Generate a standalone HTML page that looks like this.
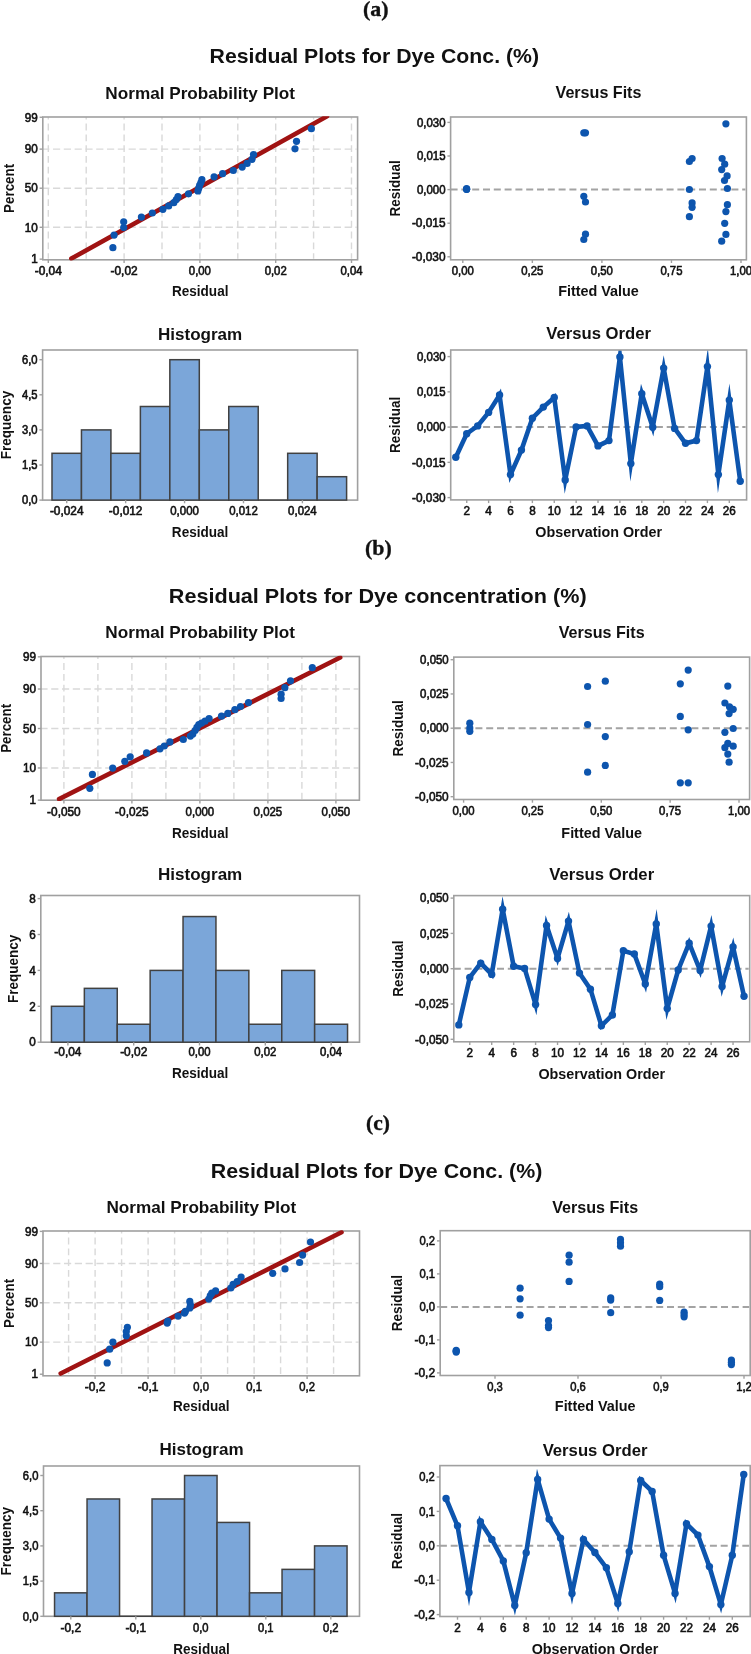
<!DOCTYPE html>
<html><head><meta charset="utf-8"><title>Residual Plots</title>
<style>html,body{margin:0;padding:0;background:#fff;}svg{display:block;}</style>
</head><body>
<svg style="will-change:transform" width="751" height="1654" viewBox="0 0 751 1654">
<rect width="751" height="1654" fill="#fff"/>
<text x="375.70" y="15.70" font-size="21.8" font-weight="bold" text-anchor="middle" fill="#111" font-family='"Liberation Serif", serif' textLength="25.6" lengthAdjust="spacingAndGlyphs" stroke="#111" stroke-width="0.35">(a)</text>
<text x="374.30" y="63.30" font-size="20.8" font-weight="bold" text-anchor="middle" fill="#111" font-family='"Liberation Sans", sans-serif' textLength="329.4" lengthAdjust="spacingAndGlyphs">Residual Plots for Dye Conc. (%)</text>
<text x="200.20" y="98.60" font-size="16.4" font-weight="bold" text-anchor="middle" fill="#111" font-family='"Liberation Sans", sans-serif' textLength="189.7" lengthAdjust="spacingAndGlyphs">Normal Probability Plot</text>
<line x1="42.20" y1="227.29" x2="356.60" y2="227.29" stroke="#d9d9d9" stroke-width="1.4" stroke-dasharray="7.2 3.6" stroke-dashoffset="0"/>
<line x1="42.20" y1="188.20" x2="356.60" y2="188.20" stroke="#d9d9d9" stroke-width="1.4" stroke-dasharray="7.2 3.6" stroke-dashoffset="0"/>
<line x1="42.20" y1="149.11" x2="356.60" y2="149.11" stroke="#d9d9d9" stroke-width="1.4" stroke-dasharray="7.2 3.6" stroke-dashoffset="0"/>
<line x1="48.30" y1="117.00" x2="48.30" y2="258.80" stroke="#d9d9d9" stroke-width="1.4" stroke-dasharray="6.8 4" stroke-dashoffset="4.2"/>
<line x1="86.20" y1="117.00" x2="86.20" y2="258.80" stroke="#d9d9d9" stroke-width="1.4" stroke-dasharray="6.8 4" stroke-dashoffset="4.2"/>
<line x1="124.10" y1="117.00" x2="124.10" y2="258.80" stroke="#d9d9d9" stroke-width="1.4" stroke-dasharray="6.8 4" stroke-dashoffset="4.2"/>
<line x1="162.00" y1="117.00" x2="162.00" y2="258.80" stroke="#d9d9d9" stroke-width="1.4" stroke-dasharray="6.8 4" stroke-dashoffset="4.2"/>
<line x1="199.90" y1="117.00" x2="199.90" y2="258.80" stroke="#d9d9d9" stroke-width="1.4" stroke-dasharray="6.8 4" stroke-dashoffset="4.2"/>
<line x1="237.80" y1="117.00" x2="237.80" y2="258.80" stroke="#d9d9d9" stroke-width="1.4" stroke-dasharray="6.8 4" stroke-dashoffset="4.2"/>
<line x1="275.70" y1="117.00" x2="275.70" y2="258.80" stroke="#d9d9d9" stroke-width="1.4" stroke-dasharray="6.8 4" stroke-dashoffset="4.2"/>
<line x1="313.60" y1="117.00" x2="313.60" y2="258.80" stroke="#d9d9d9" stroke-width="1.4" stroke-dasharray="6.8 4" stroke-dashoffset="4.2"/>
<line x1="351.50" y1="117.00" x2="351.50" y2="258.80" stroke="#d9d9d9" stroke-width="1.4" stroke-dasharray="6.8 4" stroke-dashoffset="4.2"/>
<rect x="42.80" y="117.00" width="314.80" height="142.80" fill="none" stroke="#a0a0a0" stroke-width="1.6"/>
<clipPath id="n16"><rect x="42.80" y="116.20" width="314.80" height="144.40"/></clipPath>
<line x1="71.40" y1="258.60" x2="327.00" y2="116.30" stroke="#a01313" stroke-width="4.6" stroke-linecap="round" clip-path="url(#n16)"/>
<circle cx="112.90" cy="247.70" r="3.6" fill="#0d55ae"/>
<circle cx="114.10" cy="235.10" r="3.6" fill="#0d55ae"/>
<circle cx="123.70" cy="227.54" r="3.6" fill="#0d55ae"/>
<circle cx="123.70" cy="221.84" r="3.6" fill="#0d55ae"/>
<circle cx="141.40" cy="217.12" r="3.6" fill="#0d55ae"/>
<circle cx="152.30" cy="213.00" r="3.6" fill="#0d55ae"/>
<circle cx="162.90" cy="209.30" r="3.6" fill="#0d55ae"/>
<circle cx="168.70" cy="205.88" r="3.6" fill="#0d55ae"/>
<circle cx="173.80" cy="202.68" r="3.6" fill="#0d55ae"/>
<circle cx="176.30" cy="199.62" r="3.6" fill="#0d55ae"/>
<circle cx="178.00" cy="196.68" r="3.6" fill="#0d55ae"/>
<circle cx="188.50" cy="193.81" r="3.6" fill="#0d55ae"/>
<circle cx="197.90" cy="190.99" r="3.6" fill="#0d55ae"/>
<circle cx="198.70" cy="188.20" r="3.6" fill="#0d55ae"/>
<circle cx="199.60" cy="185.41" r="3.6" fill="#0d55ae"/>
<circle cx="200.90" cy="182.59" r="3.6" fill="#0d55ae"/>
<circle cx="201.90" cy="179.72" r="3.6" fill="#0d55ae"/>
<circle cx="214.10" cy="176.78" r="3.6" fill="#0d55ae"/>
<circle cx="222.60" cy="173.72" r="3.6" fill="#0d55ae"/>
<circle cx="233.30" cy="170.52" r="3.6" fill="#0d55ae"/>
<circle cx="242.20" cy="167.10" r="3.6" fill="#0d55ae"/>
<circle cx="247.10" cy="163.40" r="3.6" fill="#0d55ae"/>
<circle cx="252.00" cy="159.28" r="3.6" fill="#0d55ae"/>
<circle cx="253.50" cy="154.56" r="3.6" fill="#0d55ae"/>
<circle cx="295.00" cy="148.86" r="3.6" fill="#0d55ae"/>
<circle cx="296.50" cy="141.30" r="3.6" fill="#0d55ae"/>
<circle cx="311.40" cy="128.70" r="3.6" fill="#0d55ae"/>
<line x1="39.60" y1="259.15" x2="42.80" y2="259.15" stroke="#a0a0a0" stroke-width="1.4"/>
<text x="37.70" y="263.40" font-size="12.2" font-weight="normal" text-anchor="end" fill="#111" font-family='"Liberation Sans", sans-serif' textLength="6.5" lengthAdjust="spacingAndGlyphs" stroke="#111" stroke-width="0.6">1</text>
<line x1="39.60" y1="227.29" x2="42.80" y2="227.29" stroke="#a0a0a0" stroke-width="1.4"/>
<text x="37.70" y="231.54" font-size="12.2" font-weight="normal" text-anchor="end" fill="#111" font-family='"Liberation Sans", sans-serif' textLength="13.0" lengthAdjust="spacingAndGlyphs" stroke="#111" stroke-width="0.6">10</text>
<line x1="39.60" y1="188.20" x2="42.80" y2="188.20" stroke="#a0a0a0" stroke-width="1.4"/>
<text x="37.70" y="192.45" font-size="12.2" font-weight="normal" text-anchor="end" fill="#111" font-family='"Liberation Sans", sans-serif' textLength="13.0" lengthAdjust="spacingAndGlyphs" stroke="#111" stroke-width="0.6">50</text>
<line x1="39.60" y1="149.11" x2="42.80" y2="149.11" stroke="#a0a0a0" stroke-width="1.4"/>
<text x="37.70" y="153.36" font-size="12.2" font-weight="normal" text-anchor="end" fill="#111" font-family='"Liberation Sans", sans-serif' textLength="13.0" lengthAdjust="spacingAndGlyphs" stroke="#111" stroke-width="0.6">90</text>
<line x1="39.60" y1="117.25" x2="42.80" y2="117.25" stroke="#a0a0a0" stroke-width="1.4"/>
<text x="37.70" y="121.50" font-size="12.2" font-weight="normal" text-anchor="end" fill="#111" font-family='"Liberation Sans", sans-serif' textLength="13.0" lengthAdjust="spacingAndGlyphs" stroke="#111" stroke-width="0.6">99</text>
<line x1="48.30" y1="259.80" x2="48.30" y2="263.00" stroke="#a0a0a0" stroke-width="1.4"/>
<text x="48.30" y="274.70" font-size="12.2" font-weight="normal" text-anchor="middle" fill="#111" font-family='"Liberation Sans", sans-serif' textLength="27.1" lengthAdjust="spacingAndGlyphs" stroke="#111" stroke-width="0.6">-0,04</text>
<line x1="124.10" y1="259.80" x2="124.10" y2="263.00" stroke="#a0a0a0" stroke-width="1.4"/>
<text x="124.10" y="274.70" font-size="12.2" font-weight="normal" text-anchor="middle" fill="#111" font-family='"Liberation Sans", sans-serif' textLength="27.1" lengthAdjust="spacingAndGlyphs" stroke="#111" stroke-width="0.6">-0,02</text>
<line x1="199.90" y1="259.80" x2="199.90" y2="263.00" stroke="#a0a0a0" stroke-width="1.4"/>
<text x="199.90" y="274.70" font-size="12.2" font-weight="normal" text-anchor="middle" fill="#111" font-family='"Liberation Sans", sans-serif' textLength="22.1" lengthAdjust="spacingAndGlyphs" stroke="#111" stroke-width="0.6">0,00</text>
<line x1="275.70" y1="259.80" x2="275.70" y2="263.00" stroke="#a0a0a0" stroke-width="1.4"/>
<text x="275.70" y="274.70" font-size="12.2" font-weight="normal" text-anchor="middle" fill="#111" font-family='"Liberation Sans", sans-serif' textLength="22.1" lengthAdjust="spacingAndGlyphs" stroke="#111" stroke-width="0.6">0,02</text>
<line x1="351.50" y1="259.80" x2="351.50" y2="263.00" stroke="#a0a0a0" stroke-width="1.4"/>
<text x="351.50" y="274.70" font-size="12.2" font-weight="normal" text-anchor="middle" fill="#111" font-family='"Liberation Sans", sans-serif' textLength="22.1" lengthAdjust="spacingAndGlyphs" stroke="#111" stroke-width="0.6">0,04</text>
<text transform="translate(13.60,188.40) rotate(-90)" x="0" y="0" font-size="15.2" font-weight="bold" text-anchor="middle" fill="#111" font-family='"Liberation Sans", sans-serif' textLength="49" lengthAdjust="spacingAndGlyphs">Percent</text>
<text x="200.20" y="296.30" font-size="14.6" font-weight="bold" text-anchor="middle" fill="#111" font-family='"Liberation Sans", sans-serif' textLength="56.5" lengthAdjust="spacingAndGlyphs">Residual</text>
<text x="598.50" y="98.20" font-size="16.4" font-weight="bold" text-anchor="middle" fill="#111" font-family='"Liberation Sans", sans-serif' textLength="85.9" lengthAdjust="spacingAndGlyphs">Versus Fits</text>
<line x1="450.60" y1="189.60" x2="745.40" y2="189.60" stroke="#a3a3a3" stroke-width="2.0" stroke-dasharray="7 3.8" stroke-dashoffset="0"/>
<circle cx="466.60" cy="189.30" r="3.6" fill="#0d55ae"/>
<circle cx="466.60" cy="189.30" r="3.6" fill="#0d55ae"/>
<circle cx="466.60" cy="188.60" r="3.6" fill="#0d55ae"/>
<circle cx="583.80" cy="132.80" r="3.6" fill="#0d55ae"/>
<circle cx="585.50" cy="132.80" r="3.6" fill="#0d55ae"/>
<circle cx="583.80" cy="196.30" r="3.6" fill="#0d55ae"/>
<circle cx="585.50" cy="202.00" r="3.6" fill="#0d55ae"/>
<circle cx="585.50" cy="234.20" r="3.6" fill="#0d55ae"/>
<circle cx="583.80" cy="239.50" r="3.6" fill="#0d55ae"/>
<circle cx="725.90" cy="123.80" r="3.6" fill="#0d55ae"/>
<circle cx="692.10" cy="158.50" r="3.6" fill="#0d55ae"/>
<circle cx="689.40" cy="161.50" r="3.6" fill="#0d55ae"/>
<circle cx="722.10" cy="158.50" r="3.6" fill="#0d55ae"/>
<circle cx="724.70" cy="164.20" r="3.6" fill="#0d55ae"/>
<circle cx="721.70" cy="169.60" r="3.6" fill="#0d55ae"/>
<circle cx="727.10" cy="175.90" r="3.6" fill="#0d55ae"/>
<circle cx="724.50" cy="180.50" r="3.6" fill="#0d55ae"/>
<circle cx="689.40" cy="189.50" r="3.6" fill="#0d55ae"/>
<circle cx="727.40" cy="188.50" r="3.6" fill="#0d55ae"/>
<circle cx="692.10" cy="202.90" r="3.6" fill="#0d55ae"/>
<circle cx="692.10" cy="207.30" r="3.6" fill="#0d55ae"/>
<circle cx="689.40" cy="216.70" r="3.6" fill="#0d55ae"/>
<circle cx="727.40" cy="204.70" r="3.6" fill="#0d55ae"/>
<circle cx="725.90" cy="211.60" r="3.6" fill="#0d55ae"/>
<circle cx="724.70" cy="223.30" r="3.6" fill="#0d55ae"/>
<circle cx="725.90" cy="234.40" r="3.6" fill="#0d55ae"/>
<circle cx="721.70" cy="241.20" r="3.6" fill="#0d55ae"/>
<rect x="450.60" y="117.00" width="295.80" height="142.80" fill="none" stroke="#a0a0a0" stroke-width="1.6"/>
<line x1="447.40" y1="122.40" x2="450.60" y2="122.40" stroke="#a0a0a0" stroke-width="1.4"/>
<text x="445.50" y="126.65" font-size="12.2" font-weight="normal" text-anchor="end" fill="#111" font-family='"Liberation Sans", sans-serif' textLength="28.6" lengthAdjust="spacingAndGlyphs" stroke="#111" stroke-width="0.6">0,030</text>
<line x1="447.40" y1="156.00" x2="450.60" y2="156.00" stroke="#a0a0a0" stroke-width="1.4"/>
<text x="445.50" y="160.25" font-size="12.2" font-weight="normal" text-anchor="end" fill="#111" font-family='"Liberation Sans", sans-serif' textLength="28.6" lengthAdjust="spacingAndGlyphs" stroke="#111" stroke-width="0.6">0,015</text>
<line x1="447.40" y1="189.60" x2="450.60" y2="189.60" stroke="#a0a0a0" stroke-width="1.4"/>
<text x="445.50" y="193.85" font-size="12.2" font-weight="normal" text-anchor="end" fill="#111" font-family='"Liberation Sans", sans-serif' textLength="28.6" lengthAdjust="spacingAndGlyphs" stroke="#111" stroke-width="0.6">0,000</text>
<line x1="447.40" y1="223.20" x2="450.60" y2="223.20" stroke="#a0a0a0" stroke-width="1.4"/>
<text x="445.50" y="227.45" font-size="12.2" font-weight="normal" text-anchor="end" fill="#111" font-family='"Liberation Sans", sans-serif' textLength="33.6" lengthAdjust="spacingAndGlyphs" stroke="#111" stroke-width="0.6">-0,015</text>
<line x1="447.40" y1="256.80" x2="450.60" y2="256.80" stroke="#a0a0a0" stroke-width="1.4"/>
<text x="445.50" y="261.05" font-size="12.2" font-weight="normal" text-anchor="end" fill="#111" font-family='"Liberation Sans", sans-serif' textLength="33.6" lengthAdjust="spacingAndGlyphs" stroke="#111" stroke-width="0.6">-0,030</text>
<line x1="462.80" y1="259.80" x2="462.80" y2="263.00" stroke="#a0a0a0" stroke-width="1.4"/>
<text x="462.80" y="274.70" font-size="12.2" font-weight="normal" text-anchor="middle" fill="#111" font-family='"Liberation Sans", sans-serif' textLength="22.1" lengthAdjust="spacingAndGlyphs" stroke="#111" stroke-width="0.6">0,00</text>
<line x1="532.35" y1="259.80" x2="532.35" y2="263.00" stroke="#a0a0a0" stroke-width="1.4"/>
<text x="532.35" y="274.70" font-size="12.2" font-weight="normal" text-anchor="middle" fill="#111" font-family='"Liberation Sans", sans-serif' textLength="22.1" lengthAdjust="spacingAndGlyphs" stroke="#111" stroke-width="0.6">0,25</text>
<line x1="601.90" y1="259.80" x2="601.90" y2="263.00" stroke="#a0a0a0" stroke-width="1.4"/>
<text x="601.90" y="274.70" font-size="12.2" font-weight="normal" text-anchor="middle" fill="#111" font-family='"Liberation Sans", sans-serif' textLength="22.1" lengthAdjust="spacingAndGlyphs" stroke="#111" stroke-width="0.6">0,50</text>
<line x1="671.45" y1="259.80" x2="671.45" y2="263.00" stroke="#a0a0a0" stroke-width="1.4"/>
<text x="671.45" y="274.70" font-size="12.2" font-weight="normal" text-anchor="middle" fill="#111" font-family='"Liberation Sans", sans-serif' textLength="22.1" lengthAdjust="spacingAndGlyphs" stroke="#111" stroke-width="0.6">0,75</text>
<line x1="741.00" y1="259.80" x2="741.00" y2="263.00" stroke="#a0a0a0" stroke-width="1.4"/>
<text x="741.00" y="274.70" font-size="12.2" font-weight="normal" text-anchor="middle" fill="#111" font-family='"Liberation Sans", sans-serif' textLength="22.1" lengthAdjust="spacingAndGlyphs" stroke="#111" stroke-width="0.6">1,00</text>
<text transform="translate(399.60,188.40) rotate(-90)" x="0" y="0" font-size="15.2" font-weight="bold" text-anchor="middle" fill="#111" font-family='"Liberation Sans", sans-serif' textLength="56.3" lengthAdjust="spacingAndGlyphs">Residual</text>
<text x="598.50" y="296.30" font-size="14.6" font-weight="bold" text-anchor="middle" fill="#111" font-family='"Liberation Sans", sans-serif' textLength="80.7" lengthAdjust="spacingAndGlyphs">Fitted Value</text>
<text x="200.10" y="339.80" font-size="16.4" font-weight="bold" text-anchor="middle" fill="#111" font-family='"Liberation Sans", sans-serif' textLength="84.2" lengthAdjust="spacingAndGlyphs">Histogram</text>
<rect x="42.60" y="350.00" width="315.00" height="150.10" fill="none" stroke="#a0a0a0" stroke-width="1.6"/>
<rect x="52.00" y="453.30" width="29.46" height="46.80" fill="#7ba6d9" stroke="#414141" stroke-width="1.5"/>
<rect x="81.46" y="429.90" width="29.46" height="70.20" fill="#7ba6d9" stroke="#414141" stroke-width="1.5"/>
<rect x="110.92" y="453.30" width="29.46" height="46.80" fill="#7ba6d9" stroke="#414141" stroke-width="1.5"/>
<rect x="140.38" y="406.50" width="29.46" height="93.60" fill="#7ba6d9" stroke="#414141" stroke-width="1.5"/>
<rect x="169.84" y="359.70" width="29.46" height="140.40" fill="#7ba6d9" stroke="#414141" stroke-width="1.5"/>
<rect x="199.30" y="429.90" width="29.46" height="70.20" fill="#7ba6d9" stroke="#414141" stroke-width="1.5"/>
<rect x="228.76" y="406.50" width="29.46" height="93.60" fill="#7ba6d9" stroke="#414141" stroke-width="1.5"/>
<line x1="258.22" y1="500.10" x2="287.68" y2="500.10" stroke="#414141" stroke-width="1.5"/>
<rect x="287.68" y="453.30" width="29.46" height="46.80" fill="#7ba6d9" stroke="#414141" stroke-width="1.5"/>
<rect x="317.14" y="476.70" width="29.46" height="23.40" fill="#7ba6d9" stroke="#414141" stroke-width="1.5"/>
<line x1="39.40" y1="500.10" x2="42.60" y2="500.10" stroke="#a0a0a0" stroke-width="1.4"/>
<text x="37.50" y="504.35" font-size="12.2" font-weight="normal" text-anchor="end" fill="#111" font-family='"Liberation Sans", sans-serif' textLength="15.6" lengthAdjust="spacingAndGlyphs" stroke="#111" stroke-width="0.6">0,0</text>
<line x1="39.40" y1="465.00" x2="42.60" y2="465.00" stroke="#a0a0a0" stroke-width="1.4"/>
<text x="37.50" y="469.25" font-size="12.2" font-weight="normal" text-anchor="end" fill="#111" font-family='"Liberation Sans", sans-serif' textLength="15.6" lengthAdjust="spacingAndGlyphs" stroke="#111" stroke-width="0.6">1,5</text>
<line x1="39.40" y1="429.90" x2="42.60" y2="429.90" stroke="#a0a0a0" stroke-width="1.4"/>
<text x="37.50" y="434.15" font-size="12.2" font-weight="normal" text-anchor="end" fill="#111" font-family='"Liberation Sans", sans-serif' textLength="15.6" lengthAdjust="spacingAndGlyphs" stroke="#111" stroke-width="0.6">3,0</text>
<line x1="39.40" y1="394.80" x2="42.60" y2="394.80" stroke="#a0a0a0" stroke-width="1.4"/>
<text x="37.50" y="399.05" font-size="12.2" font-weight="normal" text-anchor="end" fill="#111" font-family='"Liberation Sans", sans-serif' textLength="15.6" lengthAdjust="spacingAndGlyphs" stroke="#111" stroke-width="0.6">4,5</text>
<line x1="39.40" y1="359.70" x2="42.60" y2="359.70" stroke="#a0a0a0" stroke-width="1.4"/>
<text x="37.50" y="363.95" font-size="12.2" font-weight="normal" text-anchor="end" fill="#111" font-family='"Liberation Sans", sans-serif' textLength="15.6" lengthAdjust="spacingAndGlyphs" stroke="#111" stroke-width="0.6">6,0</text>
<line x1="66.73" y1="500.10" x2="66.73" y2="503.30" stroke="#a0a0a0" stroke-width="1.4"/>
<text x="66.73" y="514.80" font-size="12.2" font-weight="normal" text-anchor="middle" fill="#111" font-family='"Liberation Sans", sans-serif' textLength="33.6" lengthAdjust="spacingAndGlyphs" stroke="#111" stroke-width="0.6">-0,024</text>
<line x1="125.65" y1="500.10" x2="125.65" y2="503.30" stroke="#a0a0a0" stroke-width="1.4"/>
<text x="125.65" y="514.80" font-size="12.2" font-weight="normal" text-anchor="middle" fill="#111" font-family='"Liberation Sans", sans-serif' textLength="33.6" lengthAdjust="spacingAndGlyphs" stroke="#111" stroke-width="0.6">-0,012</text>
<line x1="184.57" y1="500.10" x2="184.57" y2="503.30" stroke="#a0a0a0" stroke-width="1.4"/>
<text x="184.57" y="514.80" font-size="12.2" font-weight="normal" text-anchor="middle" fill="#111" font-family='"Liberation Sans", sans-serif' textLength="28.6" lengthAdjust="spacingAndGlyphs" stroke="#111" stroke-width="0.6">0,000</text>
<line x1="243.49" y1="500.10" x2="243.49" y2="503.30" stroke="#a0a0a0" stroke-width="1.4"/>
<text x="243.49" y="514.80" font-size="12.2" font-weight="normal" text-anchor="middle" fill="#111" font-family='"Liberation Sans", sans-serif' textLength="28.6" lengthAdjust="spacingAndGlyphs" stroke="#111" stroke-width="0.6">0,012</text>
<line x1="302.41" y1="500.10" x2="302.41" y2="503.30" stroke="#a0a0a0" stroke-width="1.4"/>
<text x="302.41" y="514.80" font-size="12.2" font-weight="normal" text-anchor="middle" fill="#111" font-family='"Liberation Sans", sans-serif' textLength="28.6" lengthAdjust="spacingAndGlyphs" stroke="#111" stroke-width="0.6">0,024</text>
<text transform="translate(10.50,425.05) rotate(-90)" x="0" y="0" font-size="15.2" font-weight="bold" text-anchor="middle" fill="#111" font-family='"Liberation Sans", sans-serif' textLength="68.5" lengthAdjust="spacingAndGlyphs">Frequency</text>
<text x="200.10" y="536.50" font-size="14.6" font-weight="bold" text-anchor="middle" fill="#111" font-family='"Liberation Sans", sans-serif' textLength="56.5" lengthAdjust="spacingAndGlyphs">Residual</text>
<text x="598.65" y="339.20" font-size="16.4" font-weight="bold" text-anchor="middle" fill="#111" font-family='"Liberation Sans", sans-serif' textLength="104.8" lengthAdjust="spacingAndGlyphs">Versus Order</text>
<line x1="450.70" y1="427.10" x2="745.60" y2="427.10" stroke="#a3a3a3" stroke-width="2.0" stroke-dasharray="7 3.8" stroke-dashoffset="0"/>
<clipPath id="c155"><rect x="450.70" y="350.00" width="295.90" height="149.90"/></clipPath>
<polyline points="455.80,457.20 466.74,433.70 477.68,425.90 488.62,412.40 499.56,395.00 510.50,474.60 521.44,450.10 532.38,418.20 543.32,407.10 554.26,397.50 565.20,480.00 576.14,426.90 587.08,425.90 598.02,445.90 608.96,440.60 619.90,357.00 630.84,463.60 641.78,393.70 652.72,427.30 663.66,368.10 674.60,428.40 685.54,443.30 696.48,440.60 707.42,366.60 718.36,474.60 729.30,400.10 740.24,481.20" fill="none" stroke="#0d55ae" stroke-width="4.6" stroke-linejoin="miter" stroke-miterlimit="30" clip-path="url(#c155)"/>
<circle cx="455.80" cy="457.20" r="3.7" fill="#0d55ae"/>
<circle cx="466.74" cy="433.70" r="3.7" fill="#0d55ae"/>
<circle cx="477.68" cy="425.90" r="3.7" fill="#0d55ae"/>
<circle cx="488.62" cy="412.40" r="3.7" fill="#0d55ae"/>
<circle cx="499.56" cy="395.00" r="3.7" fill="#0d55ae"/>
<circle cx="510.50" cy="474.60" r="3.7" fill="#0d55ae"/>
<circle cx="521.44" cy="450.10" r="3.7" fill="#0d55ae"/>
<circle cx="532.38" cy="418.20" r="3.7" fill="#0d55ae"/>
<circle cx="543.32" cy="407.10" r="3.7" fill="#0d55ae"/>
<circle cx="554.26" cy="397.50" r="3.7" fill="#0d55ae"/>
<circle cx="565.20" cy="480.00" r="3.7" fill="#0d55ae"/>
<circle cx="576.14" cy="426.90" r="3.7" fill="#0d55ae"/>
<circle cx="587.08" cy="425.90" r="3.7" fill="#0d55ae"/>
<circle cx="598.02" cy="445.90" r="3.7" fill="#0d55ae"/>
<circle cx="608.96" cy="440.60" r="3.7" fill="#0d55ae"/>
<circle cx="619.90" cy="357.00" r="3.7" fill="#0d55ae"/>
<circle cx="630.84" cy="463.60" r="3.7" fill="#0d55ae"/>
<circle cx="641.78" cy="393.70" r="3.7" fill="#0d55ae"/>
<circle cx="652.72" cy="427.30" r="3.7" fill="#0d55ae"/>
<circle cx="663.66" cy="368.10" r="3.7" fill="#0d55ae"/>
<circle cx="674.60" cy="428.40" r="3.7" fill="#0d55ae"/>
<circle cx="685.54" cy="443.30" r="3.7" fill="#0d55ae"/>
<circle cx="696.48" cy="440.60" r="3.7" fill="#0d55ae"/>
<circle cx="707.42" cy="366.60" r="3.7" fill="#0d55ae"/>
<circle cx="718.36" cy="474.60" r="3.7" fill="#0d55ae"/>
<circle cx="729.30" cy="400.10" r="3.7" fill="#0d55ae"/>
<circle cx="740.24" cy="481.20" r="3.7" fill="#0d55ae"/>
<rect x="450.70" y="350.00" width="295.90" height="149.90" fill="none" stroke="#a0a0a0" stroke-width="1.6"/>
<line x1="447.50" y1="356.60" x2="450.70" y2="356.60" stroke="#a0a0a0" stroke-width="1.4"/>
<text x="445.60" y="360.85" font-size="12.2" font-weight="normal" text-anchor="end" fill="#111" font-family='"Liberation Sans", sans-serif' textLength="28.6" lengthAdjust="spacingAndGlyphs" stroke="#111" stroke-width="0.6">0,030</text>
<line x1="447.50" y1="391.85" x2="450.70" y2="391.85" stroke="#a0a0a0" stroke-width="1.4"/>
<text x="445.60" y="396.10" font-size="12.2" font-weight="normal" text-anchor="end" fill="#111" font-family='"Liberation Sans", sans-serif' textLength="28.6" lengthAdjust="spacingAndGlyphs" stroke="#111" stroke-width="0.6">0,015</text>
<line x1="447.50" y1="427.10" x2="450.70" y2="427.10" stroke="#a0a0a0" stroke-width="1.4"/>
<text x="445.60" y="431.35" font-size="12.2" font-weight="normal" text-anchor="end" fill="#111" font-family='"Liberation Sans", sans-serif' textLength="28.6" lengthAdjust="spacingAndGlyphs" stroke="#111" stroke-width="0.6">0,000</text>
<line x1="447.50" y1="462.35" x2="450.70" y2="462.35" stroke="#a0a0a0" stroke-width="1.4"/>
<text x="445.60" y="466.60" font-size="12.2" font-weight="normal" text-anchor="end" fill="#111" font-family='"Liberation Sans", sans-serif' textLength="33.6" lengthAdjust="spacingAndGlyphs" stroke="#111" stroke-width="0.6">-0,015</text>
<line x1="447.50" y1="497.60" x2="450.70" y2="497.60" stroke="#a0a0a0" stroke-width="1.4"/>
<text x="445.60" y="501.85" font-size="12.2" font-weight="normal" text-anchor="end" fill="#111" font-family='"Liberation Sans", sans-serif' textLength="33.6" lengthAdjust="spacingAndGlyphs" stroke="#111" stroke-width="0.6">-0,030</text>
<line x1="466.74" y1="499.90" x2="466.74" y2="503.10" stroke="#a0a0a0" stroke-width="1.4"/>
<text x="466.74" y="514.90" font-size="12.2" font-weight="normal" text-anchor="middle" fill="#111" font-family='"Liberation Sans", sans-serif' textLength="6.5" lengthAdjust="spacingAndGlyphs" stroke="#111" stroke-width="0.6">2</text>
<line x1="488.62" y1="499.90" x2="488.62" y2="503.10" stroke="#a0a0a0" stroke-width="1.4"/>
<text x="488.62" y="514.90" font-size="12.2" font-weight="normal" text-anchor="middle" fill="#111" font-family='"Liberation Sans", sans-serif' textLength="6.5" lengthAdjust="spacingAndGlyphs" stroke="#111" stroke-width="0.6">4</text>
<line x1="510.50" y1="499.90" x2="510.50" y2="503.10" stroke="#a0a0a0" stroke-width="1.4"/>
<text x="510.50" y="514.90" font-size="12.2" font-weight="normal" text-anchor="middle" fill="#111" font-family='"Liberation Sans", sans-serif' textLength="6.5" lengthAdjust="spacingAndGlyphs" stroke="#111" stroke-width="0.6">6</text>
<line x1="532.38" y1="499.90" x2="532.38" y2="503.10" stroke="#a0a0a0" stroke-width="1.4"/>
<text x="532.38" y="514.90" font-size="12.2" font-weight="normal" text-anchor="middle" fill="#111" font-family='"Liberation Sans", sans-serif' textLength="6.5" lengthAdjust="spacingAndGlyphs" stroke="#111" stroke-width="0.6">8</text>
<line x1="554.26" y1="499.90" x2="554.26" y2="503.10" stroke="#a0a0a0" stroke-width="1.4"/>
<text x="554.26" y="514.90" font-size="12.2" font-weight="normal" text-anchor="middle" fill="#111" font-family='"Liberation Sans", sans-serif' textLength="13.0" lengthAdjust="spacingAndGlyphs" stroke="#111" stroke-width="0.6">10</text>
<line x1="576.14" y1="499.90" x2="576.14" y2="503.10" stroke="#a0a0a0" stroke-width="1.4"/>
<text x="576.14" y="514.90" font-size="12.2" font-weight="normal" text-anchor="middle" fill="#111" font-family='"Liberation Sans", sans-serif' textLength="13.0" lengthAdjust="spacingAndGlyphs" stroke="#111" stroke-width="0.6">12</text>
<line x1="598.02" y1="499.90" x2="598.02" y2="503.10" stroke="#a0a0a0" stroke-width="1.4"/>
<text x="598.02" y="514.90" font-size="12.2" font-weight="normal" text-anchor="middle" fill="#111" font-family='"Liberation Sans", sans-serif' textLength="13.0" lengthAdjust="spacingAndGlyphs" stroke="#111" stroke-width="0.6">14</text>
<line x1="619.90" y1="499.90" x2="619.90" y2="503.10" stroke="#a0a0a0" stroke-width="1.4"/>
<text x="619.90" y="514.90" font-size="12.2" font-weight="normal" text-anchor="middle" fill="#111" font-family='"Liberation Sans", sans-serif' textLength="13.0" lengthAdjust="spacingAndGlyphs" stroke="#111" stroke-width="0.6">16</text>
<line x1="641.78" y1="499.90" x2="641.78" y2="503.10" stroke="#a0a0a0" stroke-width="1.4"/>
<text x="641.78" y="514.90" font-size="12.2" font-weight="normal" text-anchor="middle" fill="#111" font-family='"Liberation Sans", sans-serif' textLength="13.0" lengthAdjust="spacingAndGlyphs" stroke="#111" stroke-width="0.6">18</text>
<line x1="663.66" y1="499.90" x2="663.66" y2="503.10" stroke="#a0a0a0" stroke-width="1.4"/>
<text x="663.66" y="514.90" font-size="12.2" font-weight="normal" text-anchor="middle" fill="#111" font-family='"Liberation Sans", sans-serif' textLength="13.0" lengthAdjust="spacingAndGlyphs" stroke="#111" stroke-width="0.6">20</text>
<line x1="685.54" y1="499.90" x2="685.54" y2="503.10" stroke="#a0a0a0" stroke-width="1.4"/>
<text x="685.54" y="514.90" font-size="12.2" font-weight="normal" text-anchor="middle" fill="#111" font-family='"Liberation Sans", sans-serif' textLength="13.0" lengthAdjust="spacingAndGlyphs" stroke="#111" stroke-width="0.6">22</text>
<line x1="707.42" y1="499.90" x2="707.42" y2="503.10" stroke="#a0a0a0" stroke-width="1.4"/>
<text x="707.42" y="514.90" font-size="12.2" font-weight="normal" text-anchor="middle" fill="#111" font-family='"Liberation Sans", sans-serif' textLength="13.0" lengthAdjust="spacingAndGlyphs" stroke="#111" stroke-width="0.6">24</text>
<line x1="729.30" y1="499.90" x2="729.30" y2="503.10" stroke="#a0a0a0" stroke-width="1.4"/>
<text x="729.30" y="514.90" font-size="12.2" font-weight="normal" text-anchor="middle" fill="#111" font-family='"Liberation Sans", sans-serif' textLength="13.0" lengthAdjust="spacingAndGlyphs" stroke="#111" stroke-width="0.6">26</text>
<text transform="translate(399.60,424.95) rotate(-90)" x="0" y="0" font-size="15.2" font-weight="bold" text-anchor="middle" fill="#111" font-family='"Liberation Sans", sans-serif' textLength="56.3" lengthAdjust="spacingAndGlyphs">Residual</text>
<text x="598.65" y="536.60" font-size="14.6" font-weight="bold" text-anchor="middle" fill="#111" font-family='"Liberation Sans", sans-serif' textLength="126.7" lengthAdjust="spacingAndGlyphs">Observation Order</text>
<text x="378.40" y="555.10" font-size="21.8" font-weight="bold" text-anchor="middle" fill="#111" font-family='"Liberation Serif", serif' textLength="26.7" lengthAdjust="spacingAndGlyphs" stroke="#111" stroke-width="0.35">(b)</text>
<text x="377.70" y="602.80" font-size="20.8" font-weight="bold" text-anchor="middle" fill="#111" font-family='"Liberation Sans", sans-serif' textLength="417.8" lengthAdjust="spacingAndGlyphs">Residual Plots for Dye concentration (%)</text>
<text x="200.20" y="638.40" font-size="16.4" font-weight="bold" text-anchor="middle" fill="#111" font-family='"Liberation Sans", sans-serif' textLength="189.7" lengthAdjust="spacingAndGlyphs">Normal Probability Plot</text>
<line x1="40.40" y1="767.97" x2="358.40" y2="767.97" stroke="#d9d9d9" stroke-width="1.4" stroke-dasharray="7.2 3.6" stroke-dashoffset="0"/>
<line x1="40.40" y1="728.50" x2="358.40" y2="728.50" stroke="#d9d9d9" stroke-width="1.4" stroke-dasharray="7.2 3.6" stroke-dashoffset="0"/>
<line x1="40.40" y1="689.03" x2="358.40" y2="689.03" stroke="#d9d9d9" stroke-width="1.4" stroke-dasharray="7.2 3.6" stroke-dashoffset="0"/>
<line x1="63.90" y1="656.50" x2="63.90" y2="799.20" stroke="#d9d9d9" stroke-width="1.4" stroke-dasharray="6.8 4" stroke-dashoffset="4.2"/>
<line x1="97.90" y1="656.50" x2="97.90" y2="799.20" stroke="#d9d9d9" stroke-width="1.4" stroke-dasharray="6.8 4" stroke-dashoffset="4.2"/>
<line x1="131.90" y1="656.50" x2="131.90" y2="799.20" stroke="#d9d9d9" stroke-width="1.4" stroke-dasharray="6.8 4" stroke-dashoffset="4.2"/>
<line x1="165.90" y1="656.50" x2="165.90" y2="799.20" stroke="#d9d9d9" stroke-width="1.4" stroke-dasharray="6.8 4" stroke-dashoffset="4.2"/>
<line x1="199.90" y1="656.50" x2="199.90" y2="799.20" stroke="#d9d9d9" stroke-width="1.4" stroke-dasharray="6.8 4" stroke-dashoffset="4.2"/>
<line x1="233.90" y1="656.50" x2="233.90" y2="799.20" stroke="#d9d9d9" stroke-width="1.4" stroke-dasharray="6.8 4" stroke-dashoffset="4.2"/>
<line x1="267.90" y1="656.50" x2="267.90" y2="799.20" stroke="#d9d9d9" stroke-width="1.4" stroke-dasharray="6.8 4" stroke-dashoffset="4.2"/>
<line x1="301.90" y1="656.50" x2="301.90" y2="799.20" stroke="#d9d9d9" stroke-width="1.4" stroke-dasharray="6.8 4" stroke-dashoffset="4.2"/>
<line x1="335.90" y1="656.50" x2="335.90" y2="799.20" stroke="#d9d9d9" stroke-width="1.4" stroke-dasharray="6.8 4" stroke-dashoffset="4.2"/>
<rect x="41.00" y="656.50" width="318.40" height="143.70" fill="none" stroke="#a0a0a0" stroke-width="1.6"/>
<clipPath id="n239"><rect x="41.00" y="655.70" width="318.40" height="145.30"/></clipPath>
<line x1="59.10" y1="799.10" x2="340.20" y2="657.50" stroke="#a01313" stroke-width="4.6" stroke-linecap="round" clip-path="url(#n239)"/>
<circle cx="89.80" cy="788.30" r="3.6" fill="#0d55ae"/>
<circle cx="92.40" cy="774.40" r="3.6" fill="#0d55ae"/>
<circle cx="112.70" cy="768.10" r="3.6" fill="#0d55ae"/>
<circle cx="124.80" cy="761.30" r="3.6" fill="#0d55ae"/>
<circle cx="130.20" cy="756.80" r="3.6" fill="#0d55ae"/>
<circle cx="146.60" cy="752.90" r="3.6" fill="#0d55ae"/>
<circle cx="160.00" cy="748.80" r="3.6" fill="#0d55ae"/>
<circle cx="164.30" cy="746.00" r="3.6" fill="#0d55ae"/>
<circle cx="169.90" cy="741.90" r="3.6" fill="#0d55ae"/>
<circle cx="183.30" cy="739.50" r="3.6" fill="#0d55ae"/>
<circle cx="190.40" cy="736.10" r="3.6" fill="#0d55ae"/>
<circle cx="192.80" cy="733.90" r="3.6" fill="#0d55ae"/>
<circle cx="195.10" cy="730.50" r="3.6" fill="#0d55ae"/>
<circle cx="196.90" cy="727.40" r="3.6" fill="#0d55ae"/>
<circle cx="198.80" cy="724.60" r="3.6" fill="#0d55ae"/>
<circle cx="201.60" cy="723.10" r="3.6" fill="#0d55ae"/>
<circle cx="205.00" cy="721.20" r="3.6" fill="#0d55ae"/>
<circle cx="209.10" cy="718.60" r="3.6" fill="#0d55ae"/>
<circle cx="221.50" cy="716.20" r="3.6" fill="#0d55ae"/>
<circle cx="227.80" cy="713.40" r="3.6" fill="#0d55ae"/>
<circle cx="234.90" cy="709.70" r="3.6" fill="#0d55ae"/>
<circle cx="240.50" cy="706.50" r="3.6" fill="#0d55ae"/>
<circle cx="248.50" cy="702.60" r="3.6" fill="#0d55ae"/>
<circle cx="281.10" cy="698.50" r="3.6" fill="#0d55ae"/>
<circle cx="281.10" cy="694.20" r="3.6" fill="#0d55ae"/>
<circle cx="284.90" cy="687.70" r="3.6" fill="#0d55ae"/>
<circle cx="290.50" cy="680.80" r="3.6" fill="#0d55ae"/>
<circle cx="312.30" cy="667.70" r="3.6" fill="#0d55ae"/>
<line x1="37.80" y1="800.15" x2="41.00" y2="800.15" stroke="#a0a0a0" stroke-width="1.4"/>
<text x="35.90" y="804.40" font-size="12.2" font-weight="normal" text-anchor="end" fill="#111" font-family='"Liberation Sans", sans-serif' textLength="6.5" lengthAdjust="spacingAndGlyphs" stroke="#111" stroke-width="0.6">1</text>
<line x1="37.80" y1="767.97" x2="41.00" y2="767.97" stroke="#a0a0a0" stroke-width="1.4"/>
<text x="35.90" y="772.22" font-size="12.2" font-weight="normal" text-anchor="end" fill="#111" font-family='"Liberation Sans", sans-serif' textLength="13.0" lengthAdjust="spacingAndGlyphs" stroke="#111" stroke-width="0.6">10</text>
<line x1="37.80" y1="728.50" x2="41.00" y2="728.50" stroke="#a0a0a0" stroke-width="1.4"/>
<text x="35.90" y="732.75" font-size="12.2" font-weight="normal" text-anchor="end" fill="#111" font-family='"Liberation Sans", sans-serif' textLength="13.0" lengthAdjust="spacingAndGlyphs" stroke="#111" stroke-width="0.6">50</text>
<line x1="37.80" y1="689.03" x2="41.00" y2="689.03" stroke="#a0a0a0" stroke-width="1.4"/>
<text x="35.90" y="693.28" font-size="12.2" font-weight="normal" text-anchor="end" fill="#111" font-family='"Liberation Sans", sans-serif' textLength="13.0" lengthAdjust="spacingAndGlyphs" stroke="#111" stroke-width="0.6">90</text>
<line x1="37.80" y1="656.85" x2="41.00" y2="656.85" stroke="#a0a0a0" stroke-width="1.4"/>
<text x="35.90" y="661.10" font-size="12.2" font-weight="normal" text-anchor="end" fill="#111" font-family='"Liberation Sans", sans-serif' textLength="13.0" lengthAdjust="spacingAndGlyphs" stroke="#111" stroke-width="0.6">99</text>
<line x1="63.90" y1="800.20" x2="63.90" y2="803.40" stroke="#a0a0a0" stroke-width="1.4"/>
<text x="63.90" y="815.50" font-size="12.2" font-weight="normal" text-anchor="middle" fill="#111" font-family='"Liberation Sans", sans-serif' textLength="33.6" lengthAdjust="spacingAndGlyphs" stroke="#111" stroke-width="0.6">-0,050</text>
<line x1="131.90" y1="800.20" x2="131.90" y2="803.40" stroke="#a0a0a0" stroke-width="1.4"/>
<text x="131.90" y="815.50" font-size="12.2" font-weight="normal" text-anchor="middle" fill="#111" font-family='"Liberation Sans", sans-serif' textLength="33.6" lengthAdjust="spacingAndGlyphs" stroke="#111" stroke-width="0.6">-0,025</text>
<line x1="199.90" y1="800.20" x2="199.90" y2="803.40" stroke="#a0a0a0" stroke-width="1.4"/>
<text x="199.90" y="815.50" font-size="12.2" font-weight="normal" text-anchor="middle" fill="#111" font-family='"Liberation Sans", sans-serif' textLength="28.6" lengthAdjust="spacingAndGlyphs" stroke="#111" stroke-width="0.6">0,000</text>
<line x1="267.90" y1="800.20" x2="267.90" y2="803.40" stroke="#a0a0a0" stroke-width="1.4"/>
<text x="267.90" y="815.50" font-size="12.2" font-weight="normal" text-anchor="middle" fill="#111" font-family='"Liberation Sans", sans-serif' textLength="28.6" lengthAdjust="spacingAndGlyphs" stroke="#111" stroke-width="0.6">0,025</text>
<line x1="335.90" y1="800.20" x2="335.90" y2="803.40" stroke="#a0a0a0" stroke-width="1.4"/>
<text x="335.90" y="815.50" font-size="12.2" font-weight="normal" text-anchor="middle" fill="#111" font-family='"Liberation Sans", sans-serif' textLength="28.6" lengthAdjust="spacingAndGlyphs" stroke="#111" stroke-width="0.6">0,050</text>
<text transform="translate(10.90,728.35) rotate(-90)" x="0" y="0" font-size="15.2" font-weight="bold" text-anchor="middle" fill="#111" font-family='"Liberation Sans", sans-serif' textLength="49" lengthAdjust="spacingAndGlyphs">Percent</text>
<text x="200.20" y="837.60" font-size="14.6" font-weight="bold" text-anchor="middle" fill="#111" font-family='"Liberation Sans", sans-serif' textLength="56.5" lengthAdjust="spacingAndGlyphs">Residual</text>
<text x="601.70" y="638.40" font-size="16.4" font-weight="bold" text-anchor="middle" fill="#111" font-family='"Liberation Sans", sans-serif' textLength="85.9" lengthAdjust="spacingAndGlyphs">Versus Fits</text>
<line x1="453.80" y1="728.30" x2="748.60" y2="728.30" stroke="#a3a3a3" stroke-width="2.0" stroke-dasharray="7 3.8" stroke-dashoffset="0"/>
<circle cx="469.80" cy="723.20" r="3.6" fill="#0d55ae"/>
<circle cx="469.80" cy="728.10" r="3.6" fill="#0d55ae"/>
<circle cx="469.80" cy="731.30" r="3.6" fill="#0d55ae"/>
<circle cx="587.60" cy="686.50" r="3.6" fill="#0d55ae"/>
<circle cx="587.60" cy="724.50" r="3.6" fill="#0d55ae"/>
<circle cx="587.60" cy="772.20" r="3.6" fill="#0d55ae"/>
<circle cx="605.30" cy="681.20" r="3.6" fill="#0d55ae"/>
<circle cx="605.30" cy="736.60" r="3.6" fill="#0d55ae"/>
<circle cx="605.30" cy="765.40" r="3.6" fill="#0d55ae"/>
<circle cx="688.20" cy="670.10" r="3.6" fill="#0d55ae"/>
<circle cx="680.30" cy="683.80" r="3.6" fill="#0d55ae"/>
<circle cx="680.30" cy="716.40" r="3.6" fill="#0d55ae"/>
<circle cx="688.20" cy="729.80" r="3.6" fill="#0d55ae"/>
<circle cx="680.30" cy="782.80" r="3.6" fill="#0d55ae"/>
<circle cx="688.20" cy="782.80" r="3.6" fill="#0d55ae"/>
<circle cx="727.80" cy="686.10" r="3.6" fill="#0d55ae"/>
<circle cx="724.90" cy="703.00" r="3.6" fill="#0d55ae"/>
<circle cx="729.50" cy="706.80" r="3.6" fill="#0d55ae"/>
<circle cx="733.20" cy="709.30" r="3.6" fill="#0d55ae"/>
<circle cx="729.10" cy="713.60" r="3.6" fill="#0d55ae"/>
<circle cx="733.20" cy="728.50" r="3.6" fill="#0d55ae"/>
<circle cx="724.90" cy="732.30" r="3.6" fill="#0d55ae"/>
<circle cx="727.80" cy="743.40" r="3.6" fill="#0d55ae"/>
<circle cx="724.90" cy="747.70" r="3.6" fill="#0d55ae"/>
<circle cx="733.20" cy="746.20" r="3.6" fill="#0d55ae"/>
<circle cx="727.80" cy="754.10" r="3.6" fill="#0d55ae"/>
<circle cx="729.10" cy="762.20" r="3.6" fill="#0d55ae"/>
<rect x="453.80" y="657.10" width="295.80" height="142.40" fill="none" stroke="#a0a0a0" stroke-width="1.6"/>
<line x1="450.60" y1="659.70" x2="453.80" y2="659.70" stroke="#a0a0a0" stroke-width="1.4"/>
<text x="448.70" y="663.95" font-size="12.2" font-weight="normal" text-anchor="end" fill="#111" font-family='"Liberation Sans", sans-serif' textLength="28.6" lengthAdjust="spacingAndGlyphs" stroke="#111" stroke-width="0.6">0,050</text>
<line x1="450.60" y1="693.95" x2="453.80" y2="693.95" stroke="#a0a0a0" stroke-width="1.4"/>
<text x="448.70" y="698.20" font-size="12.2" font-weight="normal" text-anchor="end" fill="#111" font-family='"Liberation Sans", sans-serif' textLength="28.6" lengthAdjust="spacingAndGlyphs" stroke="#111" stroke-width="0.6">0,025</text>
<line x1="450.60" y1="728.20" x2="453.80" y2="728.20" stroke="#a0a0a0" stroke-width="1.4"/>
<text x="448.70" y="732.45" font-size="12.2" font-weight="normal" text-anchor="end" fill="#111" font-family='"Liberation Sans", sans-serif' textLength="28.6" lengthAdjust="spacingAndGlyphs" stroke="#111" stroke-width="0.6">0,000</text>
<line x1="450.60" y1="762.45" x2="453.80" y2="762.45" stroke="#a0a0a0" stroke-width="1.4"/>
<text x="448.70" y="766.70" font-size="12.2" font-weight="normal" text-anchor="end" fill="#111" font-family='"Liberation Sans", sans-serif' textLength="33.6" lengthAdjust="spacingAndGlyphs" stroke="#111" stroke-width="0.6">-0,025</text>
<line x1="450.60" y1="796.70" x2="453.80" y2="796.70" stroke="#a0a0a0" stroke-width="1.4"/>
<text x="448.70" y="800.95" font-size="12.2" font-weight="normal" text-anchor="end" fill="#111" font-family='"Liberation Sans", sans-serif' textLength="33.6" lengthAdjust="spacingAndGlyphs" stroke="#111" stroke-width="0.6">-0,050</text>
<line x1="463.60" y1="799.50" x2="463.60" y2="802.70" stroke="#a0a0a0" stroke-width="1.4"/>
<text x="463.60" y="815.20" font-size="12.2" font-weight="normal" text-anchor="middle" fill="#111" font-family='"Liberation Sans", sans-serif' textLength="22.1" lengthAdjust="spacingAndGlyphs" stroke="#111" stroke-width="0.6">0,00</text>
<line x1="532.45" y1="799.50" x2="532.45" y2="802.70" stroke="#a0a0a0" stroke-width="1.4"/>
<text x="532.45" y="815.20" font-size="12.2" font-weight="normal" text-anchor="middle" fill="#111" font-family='"Liberation Sans", sans-serif' textLength="22.1" lengthAdjust="spacingAndGlyphs" stroke="#111" stroke-width="0.6">0,25</text>
<line x1="601.30" y1="799.50" x2="601.30" y2="802.70" stroke="#a0a0a0" stroke-width="1.4"/>
<text x="601.30" y="815.20" font-size="12.2" font-weight="normal" text-anchor="middle" fill="#111" font-family='"Liberation Sans", sans-serif' textLength="22.1" lengthAdjust="spacingAndGlyphs" stroke="#111" stroke-width="0.6">0,50</text>
<line x1="670.15" y1="799.50" x2="670.15" y2="802.70" stroke="#a0a0a0" stroke-width="1.4"/>
<text x="670.15" y="815.20" font-size="12.2" font-weight="normal" text-anchor="middle" fill="#111" font-family='"Liberation Sans", sans-serif' textLength="22.1" lengthAdjust="spacingAndGlyphs" stroke="#111" stroke-width="0.6">0,75</text>
<line x1="739.00" y1="799.50" x2="739.00" y2="802.70" stroke="#a0a0a0" stroke-width="1.4"/>
<text x="739.00" y="815.20" font-size="12.2" font-weight="normal" text-anchor="middle" fill="#111" font-family='"Liberation Sans", sans-serif' textLength="22.1" lengthAdjust="spacingAndGlyphs" stroke="#111" stroke-width="0.6">1,00</text>
<text transform="translate(402.50,728.30) rotate(-90)" x="0" y="0" font-size="15.2" font-weight="bold" text-anchor="middle" fill="#111" font-family='"Liberation Sans", sans-serif' textLength="56.3" lengthAdjust="spacingAndGlyphs">Residual</text>
<text x="601.70" y="837.60" font-size="14.6" font-weight="bold" text-anchor="middle" fill="#111" font-family='"Liberation Sans", sans-serif' textLength="80.7" lengthAdjust="spacingAndGlyphs">Fitted Value</text>
<text x="200.15" y="880.30" font-size="16.4" font-weight="bold" text-anchor="middle" fill="#111" font-family='"Liberation Sans", sans-serif' textLength="84.2" lengthAdjust="spacingAndGlyphs">Histogram</text>
<rect x="40.80" y="895.50" width="318.70" height="146.70" fill="none" stroke="#a0a0a0" stroke-width="1.6"/>
<rect x="51.45" y="1006.30" width="32.90" height="35.90" fill="#7ba6d9" stroke="#414141" stroke-width="1.5"/>
<rect x="84.35" y="988.35" width="32.90" height="53.85" fill="#7ba6d9" stroke="#414141" stroke-width="1.5"/>
<rect x="117.25" y="1024.25" width="32.90" height="17.95" fill="#7ba6d9" stroke="#414141" stroke-width="1.5"/>
<rect x="150.15" y="970.40" width="32.90" height="71.80" fill="#7ba6d9" stroke="#414141" stroke-width="1.5"/>
<rect x="183.05" y="916.55" width="32.90" height="125.65" fill="#7ba6d9" stroke="#414141" stroke-width="1.5"/>
<rect x="215.95" y="970.40" width="32.90" height="71.80" fill="#7ba6d9" stroke="#414141" stroke-width="1.5"/>
<rect x="248.85" y="1024.25" width="32.90" height="17.95" fill="#7ba6d9" stroke="#414141" stroke-width="1.5"/>
<rect x="281.75" y="970.40" width="32.90" height="71.80" fill="#7ba6d9" stroke="#414141" stroke-width="1.5"/>
<rect x="314.65" y="1024.25" width="32.90" height="17.95" fill="#7ba6d9" stroke="#414141" stroke-width="1.5"/>
<line x1="37.60" y1="1042.20" x2="40.80" y2="1042.20" stroke="#a0a0a0" stroke-width="1.4"/>
<text x="35.70" y="1046.45" font-size="12.2" font-weight="normal" text-anchor="end" fill="#111" font-family='"Liberation Sans", sans-serif' textLength="6.5" lengthAdjust="spacingAndGlyphs" stroke="#111" stroke-width="0.6">0</text>
<line x1="37.60" y1="1006.30" x2="40.80" y2="1006.30" stroke="#a0a0a0" stroke-width="1.4"/>
<text x="35.70" y="1010.55" font-size="12.2" font-weight="normal" text-anchor="end" fill="#111" font-family='"Liberation Sans", sans-serif' textLength="6.5" lengthAdjust="spacingAndGlyphs" stroke="#111" stroke-width="0.6">2</text>
<line x1="37.60" y1="970.40" x2="40.80" y2="970.40" stroke="#a0a0a0" stroke-width="1.4"/>
<text x="35.70" y="974.65" font-size="12.2" font-weight="normal" text-anchor="end" fill="#111" font-family='"Liberation Sans", sans-serif' textLength="6.5" lengthAdjust="spacingAndGlyphs" stroke="#111" stroke-width="0.6">4</text>
<line x1="37.60" y1="934.50" x2="40.80" y2="934.50" stroke="#a0a0a0" stroke-width="1.4"/>
<text x="35.70" y="938.75" font-size="12.2" font-weight="normal" text-anchor="end" fill="#111" font-family='"Liberation Sans", sans-serif' textLength="6.5" lengthAdjust="spacingAndGlyphs" stroke="#111" stroke-width="0.6">6</text>
<line x1="37.60" y1="898.60" x2="40.80" y2="898.60" stroke="#a0a0a0" stroke-width="1.4"/>
<text x="35.70" y="902.85" font-size="12.2" font-weight="normal" text-anchor="end" fill="#111" font-family='"Liberation Sans", sans-serif' textLength="6.5" lengthAdjust="spacingAndGlyphs" stroke="#111" stroke-width="0.6">8</text>
<line x1="67.90" y1="1042.20" x2="67.90" y2="1045.40" stroke="#a0a0a0" stroke-width="1.4"/>
<text x="67.90" y="1056.40" font-size="12.2" font-weight="normal" text-anchor="middle" fill="#111" font-family='"Liberation Sans", sans-serif' textLength="27.1" lengthAdjust="spacingAndGlyphs" stroke="#111" stroke-width="0.6">-0,04</text>
<line x1="133.70" y1="1042.20" x2="133.70" y2="1045.40" stroke="#a0a0a0" stroke-width="1.4"/>
<text x="133.70" y="1056.40" font-size="12.2" font-weight="normal" text-anchor="middle" fill="#111" font-family='"Liberation Sans", sans-serif' textLength="27.1" lengthAdjust="spacingAndGlyphs" stroke="#111" stroke-width="0.6">-0,02</text>
<line x1="199.50" y1="1042.20" x2="199.50" y2="1045.40" stroke="#a0a0a0" stroke-width="1.4"/>
<text x="199.50" y="1056.40" font-size="12.2" font-weight="normal" text-anchor="middle" fill="#111" font-family='"Liberation Sans", sans-serif' textLength="22.1" lengthAdjust="spacingAndGlyphs" stroke="#111" stroke-width="0.6">0,00</text>
<line x1="265.30" y1="1042.20" x2="265.30" y2="1045.40" stroke="#a0a0a0" stroke-width="1.4"/>
<text x="265.30" y="1056.40" font-size="12.2" font-weight="normal" text-anchor="middle" fill="#111" font-family='"Liberation Sans", sans-serif' textLength="22.1" lengthAdjust="spacingAndGlyphs" stroke="#111" stroke-width="0.6">0,02</text>
<line x1="331.10" y1="1042.20" x2="331.10" y2="1045.40" stroke="#a0a0a0" stroke-width="1.4"/>
<text x="331.10" y="1056.40" font-size="12.2" font-weight="normal" text-anchor="middle" fill="#111" font-family='"Liberation Sans", sans-serif' textLength="22.1" lengthAdjust="spacingAndGlyphs" stroke="#111" stroke-width="0.6">0,04</text>
<text transform="translate(17.80,968.85) rotate(-90)" x="0" y="0" font-size="15.2" font-weight="bold" text-anchor="middle" fill="#111" font-family='"Liberation Sans", sans-serif' textLength="68.5" lengthAdjust="spacingAndGlyphs">Frequency</text>
<text x="200.15" y="1078.30" font-size="14.6" font-weight="bold" text-anchor="middle" fill="#111" font-family='"Liberation Sans", sans-serif' textLength="56.5" lengthAdjust="spacingAndGlyphs">Residual</text>
<text x="601.75" y="880.10" font-size="16.4" font-weight="bold" text-anchor="middle" fill="#111" font-family='"Liberation Sans", sans-serif' textLength="104.8" lengthAdjust="spacingAndGlyphs">Versus Order</text>
<line x1="453.80" y1="968.80" x2="748.70" y2="968.80" stroke="#a3a3a3" stroke-width="2.0" stroke-dasharray="7 3.8" stroke-dashoffset="0"/>
<clipPath id="c378"><rect x="453.80" y="895.60" width="295.90" height="146.20"/></clipPath>
<polyline points="458.80,1024.90 469.77,977.40 480.74,963.10 491.71,974.40 502.68,909.20 513.65,966.30 524.62,968.40 535.59,1004.60 546.56,925.40 557.53,958.40 568.50,921.10 579.47,973.10 590.44,989.20 601.41,1025.80 612.38,1015.00 623.35,950.70 634.32,954.00 645.29,984.00 656.26,923.90 667.23,1008.60 678.20,970.00 689.17,943.20 700.14,970.50 711.11,926.10 722.08,986.50 733.05,946.90 744.02,996.20" fill="none" stroke="#0d55ae" stroke-width="4.6" stroke-linejoin="miter" stroke-miterlimit="30" clip-path="url(#c378)"/>
<circle cx="458.80" cy="1024.90" r="3.7" fill="#0d55ae"/>
<circle cx="469.77" cy="977.40" r="3.7" fill="#0d55ae"/>
<circle cx="480.74" cy="963.10" r="3.7" fill="#0d55ae"/>
<circle cx="491.71" cy="974.40" r="3.7" fill="#0d55ae"/>
<circle cx="502.68" cy="909.20" r="3.7" fill="#0d55ae"/>
<circle cx="513.65" cy="966.30" r="3.7" fill="#0d55ae"/>
<circle cx="524.62" cy="968.40" r="3.7" fill="#0d55ae"/>
<circle cx="535.59" cy="1004.60" r="3.7" fill="#0d55ae"/>
<circle cx="546.56" cy="925.40" r="3.7" fill="#0d55ae"/>
<circle cx="557.53" cy="958.40" r="3.7" fill="#0d55ae"/>
<circle cx="568.50" cy="921.10" r="3.7" fill="#0d55ae"/>
<circle cx="579.47" cy="973.10" r="3.7" fill="#0d55ae"/>
<circle cx="590.44" cy="989.20" r="3.7" fill="#0d55ae"/>
<circle cx="601.41" cy="1025.80" r="3.7" fill="#0d55ae"/>
<circle cx="612.38" cy="1015.00" r="3.7" fill="#0d55ae"/>
<circle cx="623.35" cy="950.70" r="3.7" fill="#0d55ae"/>
<circle cx="634.32" cy="954.00" r="3.7" fill="#0d55ae"/>
<circle cx="645.29" cy="984.00" r="3.7" fill="#0d55ae"/>
<circle cx="656.26" cy="923.90" r="3.7" fill="#0d55ae"/>
<circle cx="667.23" cy="1008.60" r="3.7" fill="#0d55ae"/>
<circle cx="678.20" cy="970.00" r="3.7" fill="#0d55ae"/>
<circle cx="689.17" cy="943.20" r="3.7" fill="#0d55ae"/>
<circle cx="700.14" cy="970.50" r="3.7" fill="#0d55ae"/>
<circle cx="711.11" cy="926.10" r="3.7" fill="#0d55ae"/>
<circle cx="722.08" cy="986.50" r="3.7" fill="#0d55ae"/>
<circle cx="733.05" cy="946.90" r="3.7" fill="#0d55ae"/>
<circle cx="744.02" cy="996.20" r="3.7" fill="#0d55ae"/>
<rect x="453.80" y="895.60" width="295.90" height="146.20" fill="none" stroke="#a0a0a0" stroke-width="1.6"/>
<line x1="450.60" y1="898.10" x2="453.80" y2="898.10" stroke="#a0a0a0" stroke-width="1.4"/>
<text x="448.70" y="902.35" font-size="12.2" font-weight="normal" text-anchor="end" fill="#111" font-family='"Liberation Sans", sans-serif' textLength="28.6" lengthAdjust="spacingAndGlyphs" stroke="#111" stroke-width="0.6">0,050</text>
<line x1="450.60" y1="933.40" x2="453.80" y2="933.40" stroke="#a0a0a0" stroke-width="1.4"/>
<text x="448.70" y="937.65" font-size="12.2" font-weight="normal" text-anchor="end" fill="#111" font-family='"Liberation Sans", sans-serif' textLength="28.6" lengthAdjust="spacingAndGlyphs" stroke="#111" stroke-width="0.6">0,025</text>
<line x1="450.60" y1="968.70" x2="453.80" y2="968.70" stroke="#a0a0a0" stroke-width="1.4"/>
<text x="448.70" y="972.95" font-size="12.2" font-weight="normal" text-anchor="end" fill="#111" font-family='"Liberation Sans", sans-serif' textLength="28.6" lengthAdjust="spacingAndGlyphs" stroke="#111" stroke-width="0.6">0,000</text>
<line x1="450.60" y1="1004.00" x2="453.80" y2="1004.00" stroke="#a0a0a0" stroke-width="1.4"/>
<text x="448.70" y="1008.25" font-size="12.2" font-weight="normal" text-anchor="end" fill="#111" font-family='"Liberation Sans", sans-serif' textLength="33.6" lengthAdjust="spacingAndGlyphs" stroke="#111" stroke-width="0.6">-0,025</text>
<line x1="450.60" y1="1039.30" x2="453.80" y2="1039.30" stroke="#a0a0a0" stroke-width="1.4"/>
<text x="448.70" y="1043.55" font-size="12.2" font-weight="normal" text-anchor="end" fill="#111" font-family='"Liberation Sans", sans-serif' textLength="33.6" lengthAdjust="spacingAndGlyphs" stroke="#111" stroke-width="0.6">-0,050</text>
<line x1="469.77" y1="1041.80" x2="469.77" y2="1045.00" stroke="#a0a0a0" stroke-width="1.4"/>
<text x="469.77" y="1056.70" font-size="12.2" font-weight="normal" text-anchor="middle" fill="#111" font-family='"Liberation Sans", sans-serif' textLength="6.5" lengthAdjust="spacingAndGlyphs" stroke="#111" stroke-width="0.6">2</text>
<line x1="491.71" y1="1041.80" x2="491.71" y2="1045.00" stroke="#a0a0a0" stroke-width="1.4"/>
<text x="491.71" y="1056.70" font-size="12.2" font-weight="normal" text-anchor="middle" fill="#111" font-family='"Liberation Sans", sans-serif' textLength="6.5" lengthAdjust="spacingAndGlyphs" stroke="#111" stroke-width="0.6">4</text>
<line x1="513.65" y1="1041.80" x2="513.65" y2="1045.00" stroke="#a0a0a0" stroke-width="1.4"/>
<text x="513.65" y="1056.70" font-size="12.2" font-weight="normal" text-anchor="middle" fill="#111" font-family='"Liberation Sans", sans-serif' textLength="6.5" lengthAdjust="spacingAndGlyphs" stroke="#111" stroke-width="0.6">6</text>
<line x1="535.59" y1="1041.80" x2="535.59" y2="1045.00" stroke="#a0a0a0" stroke-width="1.4"/>
<text x="535.59" y="1056.70" font-size="12.2" font-weight="normal" text-anchor="middle" fill="#111" font-family='"Liberation Sans", sans-serif' textLength="6.5" lengthAdjust="spacingAndGlyphs" stroke="#111" stroke-width="0.6">8</text>
<line x1="557.53" y1="1041.80" x2="557.53" y2="1045.00" stroke="#a0a0a0" stroke-width="1.4"/>
<text x="557.53" y="1056.70" font-size="12.2" font-weight="normal" text-anchor="middle" fill="#111" font-family='"Liberation Sans", sans-serif' textLength="13.0" lengthAdjust="spacingAndGlyphs" stroke="#111" stroke-width="0.6">10</text>
<line x1="579.47" y1="1041.80" x2="579.47" y2="1045.00" stroke="#a0a0a0" stroke-width="1.4"/>
<text x="579.47" y="1056.70" font-size="12.2" font-weight="normal" text-anchor="middle" fill="#111" font-family='"Liberation Sans", sans-serif' textLength="13.0" lengthAdjust="spacingAndGlyphs" stroke="#111" stroke-width="0.6">12</text>
<line x1="601.41" y1="1041.80" x2="601.41" y2="1045.00" stroke="#a0a0a0" stroke-width="1.4"/>
<text x="601.41" y="1056.70" font-size="12.2" font-weight="normal" text-anchor="middle" fill="#111" font-family='"Liberation Sans", sans-serif' textLength="13.0" lengthAdjust="spacingAndGlyphs" stroke="#111" stroke-width="0.6">14</text>
<line x1="623.35" y1="1041.80" x2="623.35" y2="1045.00" stroke="#a0a0a0" stroke-width="1.4"/>
<text x="623.35" y="1056.70" font-size="12.2" font-weight="normal" text-anchor="middle" fill="#111" font-family='"Liberation Sans", sans-serif' textLength="13.0" lengthAdjust="spacingAndGlyphs" stroke="#111" stroke-width="0.6">16</text>
<line x1="645.29" y1="1041.80" x2="645.29" y2="1045.00" stroke="#a0a0a0" stroke-width="1.4"/>
<text x="645.29" y="1056.70" font-size="12.2" font-weight="normal" text-anchor="middle" fill="#111" font-family='"Liberation Sans", sans-serif' textLength="13.0" lengthAdjust="spacingAndGlyphs" stroke="#111" stroke-width="0.6">18</text>
<line x1="667.23" y1="1041.80" x2="667.23" y2="1045.00" stroke="#a0a0a0" stroke-width="1.4"/>
<text x="667.23" y="1056.70" font-size="12.2" font-weight="normal" text-anchor="middle" fill="#111" font-family='"Liberation Sans", sans-serif' textLength="13.0" lengthAdjust="spacingAndGlyphs" stroke="#111" stroke-width="0.6">20</text>
<line x1="689.17" y1="1041.80" x2="689.17" y2="1045.00" stroke="#a0a0a0" stroke-width="1.4"/>
<text x="689.17" y="1056.70" font-size="12.2" font-weight="normal" text-anchor="middle" fill="#111" font-family='"Liberation Sans", sans-serif' textLength="13.0" lengthAdjust="spacingAndGlyphs" stroke="#111" stroke-width="0.6">22</text>
<line x1="711.11" y1="1041.80" x2="711.11" y2="1045.00" stroke="#a0a0a0" stroke-width="1.4"/>
<text x="711.11" y="1056.70" font-size="12.2" font-weight="normal" text-anchor="middle" fill="#111" font-family='"Liberation Sans", sans-serif' textLength="13.0" lengthAdjust="spacingAndGlyphs" stroke="#111" stroke-width="0.6">24</text>
<line x1="733.05" y1="1041.80" x2="733.05" y2="1045.00" stroke="#a0a0a0" stroke-width="1.4"/>
<text x="733.05" y="1056.70" font-size="12.2" font-weight="normal" text-anchor="middle" fill="#111" font-family='"Liberation Sans", sans-serif' textLength="13.0" lengthAdjust="spacingAndGlyphs" stroke="#111" stroke-width="0.6">26</text>
<text transform="translate(402.50,968.70) rotate(-90)" x="0" y="0" font-size="15.2" font-weight="bold" text-anchor="middle" fill="#111" font-family='"Liberation Sans", sans-serif' textLength="56.3" lengthAdjust="spacingAndGlyphs">Residual</text>
<text x="601.75" y="1078.80" font-size="14.6" font-weight="bold" text-anchor="middle" fill="#111" font-family='"Liberation Sans", sans-serif' textLength="126.7" lengthAdjust="spacingAndGlyphs">Observation Order</text>
<text x="378.00" y="1129.80" font-size="21.8" font-weight="bold" text-anchor="middle" fill="#111" font-family='"Liberation Serif", serif' textLength="23.9" lengthAdjust="spacingAndGlyphs" stroke="#111" stroke-width="0.35">(c)</text>
<text x="376.50" y="1177.70" font-size="20.8" font-weight="bold" text-anchor="middle" fill="#111" font-family='"Liberation Sans", sans-serif' textLength="331.6" lengthAdjust="spacingAndGlyphs">Residual Plots for Dye Conc. (%)</text>
<text x="201.25" y="1212.60" font-size="16.4" font-weight="bold" text-anchor="middle" fill="#111" font-family='"Liberation Sans", sans-serif' textLength="189.7" lengthAdjust="spacingAndGlyphs">Normal Probability Plot</text>
<line x1="42.40" y1="1342.14" x2="358.50" y2="1342.14" stroke="#d9d9d9" stroke-width="1.4" stroke-dasharray="7.2 3.6" stroke-dashoffset="0"/>
<line x1="42.40" y1="1302.80" x2="358.50" y2="1302.80" stroke="#d9d9d9" stroke-width="1.4" stroke-dasharray="7.2 3.6" stroke-dashoffset="0"/>
<line x1="42.40" y1="1263.46" x2="358.50" y2="1263.46" stroke="#d9d9d9" stroke-width="1.4" stroke-dasharray="7.2 3.6" stroke-dashoffset="0"/>
<line x1="68.60" y1="1231.00" x2="68.60" y2="1374.80" stroke="#d9d9d9" stroke-width="1.4" stroke-dasharray="6.8 4" stroke-dashoffset="4.2"/>
<line x1="95.10" y1="1231.00" x2="95.10" y2="1374.80" stroke="#d9d9d9" stroke-width="1.4" stroke-dasharray="6.8 4" stroke-dashoffset="4.2"/>
<line x1="121.60" y1="1231.00" x2="121.60" y2="1374.80" stroke="#d9d9d9" stroke-width="1.4" stroke-dasharray="6.8 4" stroke-dashoffset="4.2"/>
<line x1="148.10" y1="1231.00" x2="148.10" y2="1374.80" stroke="#d9d9d9" stroke-width="1.4" stroke-dasharray="6.8 4" stroke-dashoffset="4.2"/>
<line x1="174.60" y1="1231.00" x2="174.60" y2="1374.80" stroke="#d9d9d9" stroke-width="1.4" stroke-dasharray="6.8 4" stroke-dashoffset="4.2"/>
<line x1="201.10" y1="1231.00" x2="201.10" y2="1374.80" stroke="#d9d9d9" stroke-width="1.4" stroke-dasharray="6.8 4" stroke-dashoffset="4.2"/>
<line x1="227.60" y1="1231.00" x2="227.60" y2="1374.80" stroke="#d9d9d9" stroke-width="1.4" stroke-dasharray="6.8 4" stroke-dashoffset="4.2"/>
<line x1="254.10" y1="1231.00" x2="254.10" y2="1374.80" stroke="#d9d9d9" stroke-width="1.4" stroke-dasharray="6.8 4" stroke-dashoffset="4.2"/>
<line x1="280.60" y1="1231.00" x2="280.60" y2="1374.80" stroke="#d9d9d9" stroke-width="1.4" stroke-dasharray="6.8 4" stroke-dashoffset="4.2"/>
<line x1="307.10" y1="1231.00" x2="307.10" y2="1374.80" stroke="#d9d9d9" stroke-width="1.4" stroke-dasharray="6.8 4" stroke-dashoffset="4.2"/>
<line x1="333.60" y1="1231.00" x2="333.60" y2="1374.80" stroke="#d9d9d9" stroke-width="1.4" stroke-dasharray="6.8 4" stroke-dashoffset="4.2"/>
<rect x="43.00" y="1231.00" width="316.50" height="144.80" fill="none" stroke="#a0a0a0" stroke-width="1.6"/>
<clipPath id="n464"><rect x="43.00" y="1230.20" width="316.50" height="146.40"/></clipPath>
<line x1="60.70" y1="1373.50" x2="341.50" y2="1232.30" stroke="#a01313" stroke-width="4.6" stroke-linecap="round" clip-path="url(#n464)"/>
<circle cx="107.20" cy="1362.90" r="3.6" fill="#0d55ae"/>
<circle cx="109.70" cy="1349.20" r="3.6" fill="#0d55ae"/>
<circle cx="112.90" cy="1342.20" r="3.6" fill="#0d55ae"/>
<circle cx="126.30" cy="1335.80" r="3.6" fill="#0d55ae"/>
<circle cx="126.30" cy="1331.50" r="3.6" fill="#0d55ae"/>
<circle cx="127.40" cy="1327.30" r="3.6" fill="#0d55ae"/>
<circle cx="167.20" cy="1323.10" r="3.6" fill="#0d55ae"/>
<circle cx="167.80" cy="1321.10" r="3.6" fill="#0d55ae"/>
<circle cx="178.10" cy="1316.10" r="3.6" fill="#0d55ae"/>
<circle cx="184.50" cy="1313.10" r="3.6" fill="#0d55ae"/>
<circle cx="185.40" cy="1311.40" r="3.6" fill="#0d55ae"/>
<circle cx="189.80" cy="1307.90" r="3.6" fill="#0d55ae"/>
<circle cx="190.40" cy="1304.90" r="3.6" fill="#0d55ae"/>
<circle cx="189.80" cy="1301.40" r="3.6" fill="#0d55ae"/>
<circle cx="208.80" cy="1299.10" r="3.6" fill="#0d55ae"/>
<circle cx="210.30" cy="1295.60" r="3.6" fill="#0d55ae"/>
<circle cx="211.80" cy="1293.20" r="3.6" fill="#0d55ae"/>
<circle cx="215.60" cy="1290.90" r="3.6" fill="#0d55ae"/>
<circle cx="230.80" cy="1288.00" r="3.6" fill="#0d55ae"/>
<circle cx="233.10" cy="1284.40" r="3.6" fill="#0d55ae"/>
<circle cx="237.20" cy="1281.50" r="3.6" fill="#0d55ae"/>
<circle cx="241.10" cy="1277.10" r="3.6" fill="#0d55ae"/>
<circle cx="272.70" cy="1273.30" r="3.6" fill="#0d55ae"/>
<circle cx="285.00" cy="1268.90" r="3.6" fill="#0d55ae"/>
<circle cx="299.60" cy="1262.50" r="3.6" fill="#0d55ae"/>
<circle cx="302.60" cy="1255.10" r="3.6" fill="#0d55ae"/>
<circle cx="310.50" cy="1242.00" r="3.6" fill="#0d55ae"/>
<line x1="39.80" y1="1374.22" x2="43.00" y2="1374.22" stroke="#a0a0a0" stroke-width="1.4"/>
<text x="37.90" y="1378.47" font-size="12.2" font-weight="normal" text-anchor="end" fill="#111" font-family='"Liberation Sans", sans-serif' textLength="6.5" lengthAdjust="spacingAndGlyphs" stroke="#111" stroke-width="0.6">1</text>
<line x1="39.80" y1="1342.14" x2="43.00" y2="1342.14" stroke="#a0a0a0" stroke-width="1.4"/>
<text x="37.90" y="1346.39" font-size="12.2" font-weight="normal" text-anchor="end" fill="#111" font-family='"Liberation Sans", sans-serif' textLength="13.0" lengthAdjust="spacingAndGlyphs" stroke="#111" stroke-width="0.6">10</text>
<line x1="39.80" y1="1302.80" x2="43.00" y2="1302.80" stroke="#a0a0a0" stroke-width="1.4"/>
<text x="37.90" y="1307.05" font-size="12.2" font-weight="normal" text-anchor="end" fill="#111" font-family='"Liberation Sans", sans-serif' textLength="13.0" lengthAdjust="spacingAndGlyphs" stroke="#111" stroke-width="0.6">50</text>
<line x1="39.80" y1="1263.46" x2="43.00" y2="1263.46" stroke="#a0a0a0" stroke-width="1.4"/>
<text x="37.90" y="1267.71" font-size="12.2" font-weight="normal" text-anchor="end" fill="#111" font-family='"Liberation Sans", sans-serif' textLength="13.0" lengthAdjust="spacingAndGlyphs" stroke="#111" stroke-width="0.6">90</text>
<line x1="39.80" y1="1231.38" x2="43.00" y2="1231.38" stroke="#a0a0a0" stroke-width="1.4"/>
<text x="37.90" y="1235.63" font-size="12.2" font-weight="normal" text-anchor="end" fill="#111" font-family='"Liberation Sans", sans-serif' textLength="13.0" lengthAdjust="spacingAndGlyphs" stroke="#111" stroke-width="0.6">99</text>
<line x1="95.10" y1="1375.80" x2="95.10" y2="1379.00" stroke="#a0a0a0" stroke-width="1.4"/>
<text x="95.10" y="1390.60" font-size="12.2" font-weight="normal" text-anchor="middle" fill="#111" font-family='"Liberation Sans", sans-serif' textLength="20.6" lengthAdjust="spacingAndGlyphs" stroke="#111" stroke-width="0.6">-0,2</text>
<line x1="148.10" y1="1375.80" x2="148.10" y2="1379.00" stroke="#a0a0a0" stroke-width="1.4"/>
<text x="148.10" y="1390.60" font-size="12.2" font-weight="normal" text-anchor="middle" fill="#111" font-family='"Liberation Sans", sans-serif' textLength="20.6" lengthAdjust="spacingAndGlyphs" stroke="#111" stroke-width="0.6">-0,1</text>
<line x1="201.10" y1="1375.80" x2="201.10" y2="1379.00" stroke="#a0a0a0" stroke-width="1.4"/>
<text x="201.10" y="1390.60" font-size="12.2" font-weight="normal" text-anchor="middle" fill="#111" font-family='"Liberation Sans", sans-serif' textLength="15.6" lengthAdjust="spacingAndGlyphs" stroke="#111" stroke-width="0.6">0,0</text>
<line x1="254.10" y1="1375.80" x2="254.10" y2="1379.00" stroke="#a0a0a0" stroke-width="1.4"/>
<text x="254.10" y="1390.60" font-size="12.2" font-weight="normal" text-anchor="middle" fill="#111" font-family='"Liberation Sans", sans-serif' textLength="15.6" lengthAdjust="spacingAndGlyphs" stroke="#111" stroke-width="0.6">0,1</text>
<line x1="307.10" y1="1375.80" x2="307.10" y2="1379.00" stroke="#a0a0a0" stroke-width="1.4"/>
<text x="307.10" y="1390.60" font-size="12.2" font-weight="normal" text-anchor="middle" fill="#111" font-family='"Liberation Sans", sans-serif' textLength="15.6" lengthAdjust="spacingAndGlyphs" stroke="#111" stroke-width="0.6">0,2</text>
<text transform="translate(13.90,1303.40) rotate(-90)" x="0" y="0" font-size="15.2" font-weight="bold" text-anchor="middle" fill="#111" font-family='"Liberation Sans", sans-serif' textLength="49" lengthAdjust="spacingAndGlyphs">Percent</text>
<text x="201.25" y="1411.40" font-size="14.6" font-weight="bold" text-anchor="middle" fill="#111" font-family='"Liberation Sans", sans-serif' textLength="56.5" lengthAdjust="spacingAndGlyphs">Residual</text>
<text x="595.20" y="1212.60" font-size="16.4" font-weight="bold" text-anchor="middle" fill="#111" font-family='"Liberation Sans", sans-serif' textLength="85.9" lengthAdjust="spacingAndGlyphs">Versus Fits</text>
<line x1="440.20" y1="1306.90" x2="749.20" y2="1306.90" stroke="#a3a3a3" stroke-width="2.0" stroke-dasharray="7 3.8" stroke-dashoffset="0"/>
<circle cx="456.20" cy="1350.40" r="3.6" fill="#0d55ae"/>
<circle cx="456.20" cy="1352.10" r="3.6" fill="#0d55ae"/>
<circle cx="456.20" cy="1351.20" r="3.6" fill="#0d55ae"/>
<circle cx="520.10" cy="1288.20" r="3.6" fill="#0d55ae"/>
<circle cx="520.10" cy="1298.80" r="3.6" fill="#0d55ae"/>
<circle cx="520.10" cy="1315.20" r="3.6" fill="#0d55ae"/>
<circle cx="548.50" cy="1320.60" r="3.6" fill="#0d55ae"/>
<circle cx="548.50" cy="1325.50" r="3.6" fill="#0d55ae"/>
<circle cx="548.50" cy="1327.60" r="3.6" fill="#0d55ae"/>
<circle cx="569.10" cy="1255.20" r="3.6" fill="#0d55ae"/>
<circle cx="569.10" cy="1262.20" r="3.6" fill="#0d55ae"/>
<circle cx="569.10" cy="1281.40" r="3.6" fill="#0d55ae"/>
<circle cx="620.50" cy="1239.40" r="3.6" fill="#0d55ae"/>
<circle cx="620.50" cy="1242.80" r="3.6" fill="#0d55ae"/>
<circle cx="620.50" cy="1246.20" r="3.6" fill="#0d55ae"/>
<circle cx="610.70" cy="1297.90" r="3.6" fill="#0d55ae"/>
<circle cx="610.70" cy="1300.10" r="3.6" fill="#0d55ae"/>
<circle cx="610.70" cy="1312.70" r="3.6" fill="#0d55ae"/>
<circle cx="659.70" cy="1284.20" r="3.6" fill="#0d55ae"/>
<circle cx="659.70" cy="1286.70" r="3.6" fill="#0d55ae"/>
<circle cx="659.70" cy="1300.40" r="3.6" fill="#0d55ae"/>
<circle cx="684.10" cy="1312.20" r="3.6" fill="#0d55ae"/>
<circle cx="684.10" cy="1316.80" r="3.6" fill="#0d55ae"/>
<circle cx="684.10" cy="1314.50" r="3.6" fill="#0d55ae"/>
<circle cx="731.40" cy="1360.00" r="3.6" fill="#0d55ae"/>
<circle cx="731.40" cy="1362.30" r="3.6" fill="#0d55ae"/>
<circle cx="731.40" cy="1364.60" r="3.6" fill="#0d55ae"/>
<rect x="440.20" y="1230.70" width="310.00" height="144.80" fill="none" stroke="#a0a0a0" stroke-width="1.6"/>
<line x1="437.00" y1="1240.90" x2="440.20" y2="1240.90" stroke="#a0a0a0" stroke-width="1.4"/>
<text x="435.10" y="1245.15" font-size="12.2" font-weight="normal" text-anchor="end" fill="#111" font-family='"Liberation Sans", sans-serif' textLength="15.6" lengthAdjust="spacingAndGlyphs" stroke="#111" stroke-width="0.6">0,2</text>
<line x1="437.00" y1="1273.90" x2="440.20" y2="1273.90" stroke="#a0a0a0" stroke-width="1.4"/>
<text x="435.10" y="1278.15" font-size="12.2" font-weight="normal" text-anchor="end" fill="#111" font-family='"Liberation Sans", sans-serif' textLength="15.6" lengthAdjust="spacingAndGlyphs" stroke="#111" stroke-width="0.6">0,1</text>
<line x1="437.00" y1="1306.90" x2="440.20" y2="1306.90" stroke="#a0a0a0" stroke-width="1.4"/>
<text x="435.10" y="1311.15" font-size="12.2" font-weight="normal" text-anchor="end" fill="#111" font-family='"Liberation Sans", sans-serif' textLength="15.6" lengthAdjust="spacingAndGlyphs" stroke="#111" stroke-width="0.6">0,0</text>
<line x1="437.00" y1="1339.90" x2="440.20" y2="1339.90" stroke="#a0a0a0" stroke-width="1.4"/>
<text x="435.10" y="1344.15" font-size="12.2" font-weight="normal" text-anchor="end" fill="#111" font-family='"Liberation Sans", sans-serif' textLength="20.6" lengthAdjust="spacingAndGlyphs" stroke="#111" stroke-width="0.6">-0,1</text>
<line x1="437.00" y1="1372.90" x2="440.20" y2="1372.90" stroke="#a0a0a0" stroke-width="1.4"/>
<text x="435.10" y="1377.15" font-size="12.2" font-weight="normal" text-anchor="end" fill="#111" font-family='"Liberation Sans", sans-serif' textLength="20.6" lengthAdjust="spacingAndGlyphs" stroke="#111" stroke-width="0.6">-0,2</text>
<line x1="495.00" y1="1375.50" x2="495.00" y2="1378.70" stroke="#a0a0a0" stroke-width="1.4"/>
<text x="495.00" y="1390.60" font-size="12.2" font-weight="normal" text-anchor="middle" fill="#111" font-family='"Liberation Sans", sans-serif' textLength="15.6" lengthAdjust="spacingAndGlyphs" stroke="#111" stroke-width="0.6">0,3</text>
<line x1="578.00" y1="1375.50" x2="578.00" y2="1378.70" stroke="#a0a0a0" stroke-width="1.4"/>
<text x="578.00" y="1390.60" font-size="12.2" font-weight="normal" text-anchor="middle" fill="#111" font-family='"Liberation Sans", sans-serif' textLength="15.6" lengthAdjust="spacingAndGlyphs" stroke="#111" stroke-width="0.6">0,6</text>
<line x1="661.00" y1="1375.50" x2="661.00" y2="1378.70" stroke="#a0a0a0" stroke-width="1.4"/>
<text x="661.00" y="1390.60" font-size="12.2" font-weight="normal" text-anchor="middle" fill="#111" font-family='"Liberation Sans", sans-serif' textLength="15.6" lengthAdjust="spacingAndGlyphs" stroke="#111" stroke-width="0.6">0,9</text>
<line x1="744.00" y1="1375.50" x2="744.00" y2="1378.70" stroke="#a0a0a0" stroke-width="1.4"/>
<text x="744.00" y="1390.60" font-size="12.2" font-weight="normal" text-anchor="middle" fill="#111" font-family='"Liberation Sans", sans-serif' textLength="15.6" lengthAdjust="spacingAndGlyphs" stroke="#111" stroke-width="0.6">1,2</text>
<text transform="translate(402.00,1303.10) rotate(-90)" x="0" y="0" font-size="15.2" font-weight="bold" text-anchor="middle" fill="#111" font-family='"Liberation Sans", sans-serif' textLength="56.3" lengthAdjust="spacingAndGlyphs">Residual</text>
<text x="595.20" y="1411.40" font-size="14.6" font-weight="bold" text-anchor="middle" fill="#111" font-family='"Liberation Sans", sans-serif' textLength="80.7" lengthAdjust="spacingAndGlyphs">Fitted Value</text>
<text x="201.50" y="1455.20" font-size="16.4" font-weight="bold" text-anchor="middle" fill="#111" font-family='"Liberation Sans", sans-serif' textLength="84.2" lengthAdjust="spacingAndGlyphs">Histogram</text>
<rect x="43.50" y="1466.00" width="316.00" height="150.30" fill="none" stroke="#a0a0a0" stroke-width="1.6"/>
<rect x="54.55" y="1592.83" width="32.50" height="23.47" fill="#7ba6d9" stroke="#414141" stroke-width="1.5"/>
<rect x="87.05" y="1498.97" width="32.50" height="117.33" fill="#7ba6d9" stroke="#414141" stroke-width="1.5"/>
<line x1="119.55" y1="1616.30" x2="152.05" y2="1616.30" stroke="#414141" stroke-width="1.5"/>
<rect x="152.05" y="1498.97" width="32.50" height="117.33" fill="#7ba6d9" stroke="#414141" stroke-width="1.5"/>
<rect x="184.55" y="1475.50" width="32.50" height="140.80" fill="#7ba6d9" stroke="#414141" stroke-width="1.5"/>
<rect x="217.05" y="1522.43" width="32.50" height="93.87" fill="#7ba6d9" stroke="#414141" stroke-width="1.5"/>
<rect x="249.55" y="1592.83" width="32.50" height="23.47" fill="#7ba6d9" stroke="#414141" stroke-width="1.5"/>
<rect x="282.05" y="1569.37" width="32.50" height="46.93" fill="#7ba6d9" stroke="#414141" stroke-width="1.5"/>
<rect x="314.55" y="1545.90" width="32.50" height="70.40" fill="#7ba6d9" stroke="#414141" stroke-width="1.5"/>
<line x1="40.30" y1="1616.30" x2="43.50" y2="1616.30" stroke="#a0a0a0" stroke-width="1.4"/>
<text x="38.40" y="1620.55" font-size="12.2" font-weight="normal" text-anchor="end" fill="#111" font-family='"Liberation Sans", sans-serif' textLength="15.6" lengthAdjust="spacingAndGlyphs" stroke="#111" stroke-width="0.6">0,0</text>
<line x1="40.30" y1="1581.10" x2="43.50" y2="1581.10" stroke="#a0a0a0" stroke-width="1.4"/>
<text x="38.40" y="1585.35" font-size="12.2" font-weight="normal" text-anchor="end" fill="#111" font-family='"Liberation Sans", sans-serif' textLength="15.6" lengthAdjust="spacingAndGlyphs" stroke="#111" stroke-width="0.6">1,5</text>
<line x1="40.30" y1="1545.90" x2="43.50" y2="1545.90" stroke="#a0a0a0" stroke-width="1.4"/>
<text x="38.40" y="1550.15" font-size="12.2" font-weight="normal" text-anchor="end" fill="#111" font-family='"Liberation Sans", sans-serif' textLength="15.6" lengthAdjust="spacingAndGlyphs" stroke="#111" stroke-width="0.6">3,0</text>
<line x1="40.30" y1="1510.70" x2="43.50" y2="1510.70" stroke="#a0a0a0" stroke-width="1.4"/>
<text x="38.40" y="1514.95" font-size="12.2" font-weight="normal" text-anchor="end" fill="#111" font-family='"Liberation Sans", sans-serif' textLength="15.6" lengthAdjust="spacingAndGlyphs" stroke="#111" stroke-width="0.6">4,5</text>
<line x1="40.30" y1="1475.50" x2="43.50" y2="1475.50" stroke="#a0a0a0" stroke-width="1.4"/>
<text x="38.40" y="1479.75" font-size="12.2" font-weight="normal" text-anchor="end" fill="#111" font-family='"Liberation Sans", sans-serif' textLength="15.6" lengthAdjust="spacingAndGlyphs" stroke="#111" stroke-width="0.6">6,0</text>
<line x1="70.80" y1="1616.30" x2="70.80" y2="1619.50" stroke="#a0a0a0" stroke-width="1.4"/>
<text x="70.80" y="1631.90" font-size="12.2" font-weight="normal" text-anchor="middle" fill="#111" font-family='"Liberation Sans", sans-serif' textLength="20.6" lengthAdjust="spacingAndGlyphs" stroke="#111" stroke-width="0.6">-0,2</text>
<line x1="135.80" y1="1616.30" x2="135.80" y2="1619.50" stroke="#a0a0a0" stroke-width="1.4"/>
<text x="135.80" y="1631.90" font-size="12.2" font-weight="normal" text-anchor="middle" fill="#111" font-family='"Liberation Sans", sans-serif' textLength="20.6" lengthAdjust="spacingAndGlyphs" stroke="#111" stroke-width="0.6">-0,1</text>
<line x1="200.80" y1="1616.30" x2="200.80" y2="1619.50" stroke="#a0a0a0" stroke-width="1.4"/>
<text x="200.80" y="1631.90" font-size="12.2" font-weight="normal" text-anchor="middle" fill="#111" font-family='"Liberation Sans", sans-serif' textLength="15.6" lengthAdjust="spacingAndGlyphs" stroke="#111" stroke-width="0.6">0,0</text>
<line x1="265.80" y1="1616.30" x2="265.80" y2="1619.50" stroke="#a0a0a0" stroke-width="1.4"/>
<text x="265.80" y="1631.90" font-size="12.2" font-weight="normal" text-anchor="middle" fill="#111" font-family='"Liberation Sans", sans-serif' textLength="15.6" lengthAdjust="spacingAndGlyphs" stroke="#111" stroke-width="0.6">0,1</text>
<line x1="330.80" y1="1616.30" x2="330.80" y2="1619.50" stroke="#a0a0a0" stroke-width="1.4"/>
<text x="330.80" y="1631.90" font-size="12.2" font-weight="normal" text-anchor="middle" fill="#111" font-family='"Liberation Sans", sans-serif' textLength="15.6" lengthAdjust="spacingAndGlyphs" stroke="#111" stroke-width="0.6">0,2</text>
<text transform="translate(10.50,1541.15) rotate(-90)" x="0" y="0" font-size="15.2" font-weight="bold" text-anchor="middle" fill="#111" font-family='"Liberation Sans", sans-serif' textLength="68.5" lengthAdjust="spacingAndGlyphs">Frequency</text>
<text x="201.50" y="1654.00" font-size="14.6" font-weight="bold" text-anchor="middle" fill="#111" font-family='"Liberation Sans", sans-serif' textLength="56.5" lengthAdjust="spacingAndGlyphs">Residual</text>
<text x="595.05" y="1455.50" font-size="16.4" font-weight="bold" text-anchor="middle" fill="#111" font-family='"Liberation Sans", sans-serif' textLength="104.8" lengthAdjust="spacingAndGlyphs">Versus Order</text>
<line x1="439.90" y1="1545.80" x2="749.20" y2="1545.80" stroke="#a3a3a3" stroke-width="2.0" stroke-dasharray="7 3.8" stroke-dashoffset="0"/>
<clipPath id="c600"><rect x="439.90" y="1465.60" width="310.30" height="150.90"/></clipPath>
<polyline points="446.05,1498.50 457.50,1525.80 468.95,1592.40 480.40,1521.80 491.85,1539.40 503.30,1560.90 514.75,1605.50 526.20,1552.80 537.65,1479.40 549.10,1519.10 560.55,1538.10 572.00,1593.50 583.45,1539.50 594.90,1552.50 606.35,1567.70 617.80,1603.50 629.25,1551.80 640.70,1480.50 652.15,1491.40 663.60,1555.20 675.05,1593.40 686.50,1523.80 697.95,1535.10 709.40,1566.60 720.85,1604.60 732.30,1555.20 743.75,1474.40" fill="none" stroke="#0d55ae" stroke-width="4.6" stroke-linejoin="miter" stroke-miterlimit="30" clip-path="url(#c600)"/>
<circle cx="446.05" cy="1498.50" r="3.7" fill="#0d55ae"/>
<circle cx="457.50" cy="1525.80" r="3.7" fill="#0d55ae"/>
<circle cx="468.95" cy="1592.40" r="3.7" fill="#0d55ae"/>
<circle cx="480.40" cy="1521.80" r="3.7" fill="#0d55ae"/>
<circle cx="491.85" cy="1539.40" r="3.7" fill="#0d55ae"/>
<circle cx="503.30" cy="1560.90" r="3.7" fill="#0d55ae"/>
<circle cx="514.75" cy="1605.50" r="3.7" fill="#0d55ae"/>
<circle cx="526.20" cy="1552.80" r="3.7" fill="#0d55ae"/>
<circle cx="537.65" cy="1479.40" r="3.7" fill="#0d55ae"/>
<circle cx="549.10" cy="1519.10" r="3.7" fill="#0d55ae"/>
<circle cx="560.55" cy="1538.10" r="3.7" fill="#0d55ae"/>
<circle cx="572.00" cy="1593.50" r="3.7" fill="#0d55ae"/>
<circle cx="583.45" cy="1539.50" r="3.7" fill="#0d55ae"/>
<circle cx="594.90" cy="1552.50" r="3.7" fill="#0d55ae"/>
<circle cx="606.35" cy="1567.70" r="3.7" fill="#0d55ae"/>
<circle cx="617.80" cy="1603.50" r="3.7" fill="#0d55ae"/>
<circle cx="629.25" cy="1551.80" r="3.7" fill="#0d55ae"/>
<circle cx="640.70" cy="1480.50" r="3.7" fill="#0d55ae"/>
<circle cx="652.15" cy="1491.40" r="3.7" fill="#0d55ae"/>
<circle cx="663.60" cy="1555.20" r="3.7" fill="#0d55ae"/>
<circle cx="675.05" cy="1593.40" r="3.7" fill="#0d55ae"/>
<circle cx="686.50" cy="1523.80" r="3.7" fill="#0d55ae"/>
<circle cx="697.95" cy="1535.10" r="3.7" fill="#0d55ae"/>
<circle cx="709.40" cy="1566.60" r="3.7" fill="#0d55ae"/>
<circle cx="720.85" cy="1604.60" r="3.7" fill="#0d55ae"/>
<circle cx="732.30" cy="1555.20" r="3.7" fill="#0d55ae"/>
<circle cx="743.75" cy="1474.40" r="3.7" fill="#0d55ae"/>
<rect x="439.90" y="1465.60" width="310.30" height="150.90" fill="none" stroke="#a0a0a0" stroke-width="1.6"/>
<line x1="436.70" y1="1477.00" x2="439.90" y2="1477.00" stroke="#a0a0a0" stroke-width="1.4"/>
<text x="434.80" y="1481.25" font-size="12.2" font-weight="normal" text-anchor="end" fill="#111" font-family='"Liberation Sans", sans-serif' textLength="15.6" lengthAdjust="spacingAndGlyphs" stroke="#111" stroke-width="0.6">0,2</text>
<line x1="436.70" y1="1511.40" x2="439.90" y2="1511.40" stroke="#a0a0a0" stroke-width="1.4"/>
<text x="434.80" y="1515.65" font-size="12.2" font-weight="normal" text-anchor="end" fill="#111" font-family='"Liberation Sans", sans-serif' textLength="15.6" lengthAdjust="spacingAndGlyphs" stroke="#111" stroke-width="0.6">0,1</text>
<line x1="436.70" y1="1545.80" x2="439.90" y2="1545.80" stroke="#a0a0a0" stroke-width="1.4"/>
<text x="434.80" y="1550.05" font-size="12.2" font-weight="normal" text-anchor="end" fill="#111" font-family='"Liberation Sans", sans-serif' textLength="15.6" lengthAdjust="spacingAndGlyphs" stroke="#111" stroke-width="0.6">0,0</text>
<line x1="436.70" y1="1580.20" x2="439.90" y2="1580.20" stroke="#a0a0a0" stroke-width="1.4"/>
<text x="434.80" y="1584.45" font-size="12.2" font-weight="normal" text-anchor="end" fill="#111" font-family='"Liberation Sans", sans-serif' textLength="20.6" lengthAdjust="spacingAndGlyphs" stroke="#111" stroke-width="0.6">-0,1</text>
<line x1="436.70" y1="1614.60" x2="439.90" y2="1614.60" stroke="#a0a0a0" stroke-width="1.4"/>
<text x="434.80" y="1618.85" font-size="12.2" font-weight="normal" text-anchor="end" fill="#111" font-family='"Liberation Sans", sans-serif' textLength="20.6" lengthAdjust="spacingAndGlyphs" stroke="#111" stroke-width="0.6">-0,2</text>
<line x1="457.50" y1="1616.50" x2="457.50" y2="1619.70" stroke="#a0a0a0" stroke-width="1.4"/>
<text x="457.50" y="1631.60" font-size="12.2" font-weight="normal" text-anchor="middle" fill="#111" font-family='"Liberation Sans", sans-serif' textLength="6.5" lengthAdjust="spacingAndGlyphs" stroke="#111" stroke-width="0.6">2</text>
<line x1="480.40" y1="1616.50" x2="480.40" y2="1619.70" stroke="#a0a0a0" stroke-width="1.4"/>
<text x="480.40" y="1631.60" font-size="12.2" font-weight="normal" text-anchor="middle" fill="#111" font-family='"Liberation Sans", sans-serif' textLength="6.5" lengthAdjust="spacingAndGlyphs" stroke="#111" stroke-width="0.6">4</text>
<line x1="503.30" y1="1616.50" x2="503.30" y2="1619.70" stroke="#a0a0a0" stroke-width="1.4"/>
<text x="503.30" y="1631.60" font-size="12.2" font-weight="normal" text-anchor="middle" fill="#111" font-family='"Liberation Sans", sans-serif' textLength="6.5" lengthAdjust="spacingAndGlyphs" stroke="#111" stroke-width="0.6">6</text>
<line x1="526.20" y1="1616.50" x2="526.20" y2="1619.70" stroke="#a0a0a0" stroke-width="1.4"/>
<text x="526.20" y="1631.60" font-size="12.2" font-weight="normal" text-anchor="middle" fill="#111" font-family='"Liberation Sans", sans-serif' textLength="6.5" lengthAdjust="spacingAndGlyphs" stroke="#111" stroke-width="0.6">8</text>
<line x1="549.10" y1="1616.50" x2="549.10" y2="1619.70" stroke="#a0a0a0" stroke-width="1.4"/>
<text x="549.10" y="1631.60" font-size="12.2" font-weight="normal" text-anchor="middle" fill="#111" font-family='"Liberation Sans", sans-serif' textLength="13.0" lengthAdjust="spacingAndGlyphs" stroke="#111" stroke-width="0.6">10</text>
<line x1="572.00" y1="1616.50" x2="572.00" y2="1619.70" stroke="#a0a0a0" stroke-width="1.4"/>
<text x="572.00" y="1631.60" font-size="12.2" font-weight="normal" text-anchor="middle" fill="#111" font-family='"Liberation Sans", sans-serif' textLength="13.0" lengthAdjust="spacingAndGlyphs" stroke="#111" stroke-width="0.6">12</text>
<line x1="594.90" y1="1616.50" x2="594.90" y2="1619.70" stroke="#a0a0a0" stroke-width="1.4"/>
<text x="594.90" y="1631.60" font-size="12.2" font-weight="normal" text-anchor="middle" fill="#111" font-family='"Liberation Sans", sans-serif' textLength="13.0" lengthAdjust="spacingAndGlyphs" stroke="#111" stroke-width="0.6">14</text>
<line x1="617.80" y1="1616.50" x2="617.80" y2="1619.70" stroke="#a0a0a0" stroke-width="1.4"/>
<text x="617.80" y="1631.60" font-size="12.2" font-weight="normal" text-anchor="middle" fill="#111" font-family='"Liberation Sans", sans-serif' textLength="13.0" lengthAdjust="spacingAndGlyphs" stroke="#111" stroke-width="0.6">16</text>
<line x1="640.70" y1="1616.50" x2="640.70" y2="1619.70" stroke="#a0a0a0" stroke-width="1.4"/>
<text x="640.70" y="1631.60" font-size="12.2" font-weight="normal" text-anchor="middle" fill="#111" font-family='"Liberation Sans", sans-serif' textLength="13.0" lengthAdjust="spacingAndGlyphs" stroke="#111" stroke-width="0.6">18</text>
<line x1="663.60" y1="1616.50" x2="663.60" y2="1619.70" stroke="#a0a0a0" stroke-width="1.4"/>
<text x="663.60" y="1631.60" font-size="12.2" font-weight="normal" text-anchor="middle" fill="#111" font-family='"Liberation Sans", sans-serif' textLength="13.0" lengthAdjust="spacingAndGlyphs" stroke="#111" stroke-width="0.6">20</text>
<line x1="686.50" y1="1616.50" x2="686.50" y2="1619.70" stroke="#a0a0a0" stroke-width="1.4"/>
<text x="686.50" y="1631.60" font-size="12.2" font-weight="normal" text-anchor="middle" fill="#111" font-family='"Liberation Sans", sans-serif' textLength="13.0" lengthAdjust="spacingAndGlyphs" stroke="#111" stroke-width="0.6">22</text>
<line x1="709.40" y1="1616.50" x2="709.40" y2="1619.70" stroke="#a0a0a0" stroke-width="1.4"/>
<text x="709.40" y="1631.60" font-size="12.2" font-weight="normal" text-anchor="middle" fill="#111" font-family='"Liberation Sans", sans-serif' textLength="13.0" lengthAdjust="spacingAndGlyphs" stroke="#111" stroke-width="0.6">24</text>
<line x1="732.30" y1="1616.50" x2="732.30" y2="1619.70" stroke="#a0a0a0" stroke-width="1.4"/>
<text x="732.30" y="1631.60" font-size="12.2" font-weight="normal" text-anchor="middle" fill="#111" font-family='"Liberation Sans", sans-serif' textLength="13.0" lengthAdjust="spacingAndGlyphs" stroke="#111" stroke-width="0.6">26</text>
<text transform="translate(402.00,1541.05) rotate(-90)" x="0" y="0" font-size="15.2" font-weight="bold" text-anchor="middle" fill="#111" font-family='"Liberation Sans", sans-serif' textLength="56.3" lengthAdjust="spacingAndGlyphs">Residual</text>
<text x="595.05" y="1654.00" font-size="14.6" font-weight="bold" text-anchor="middle" fill="#111" font-family='"Liberation Sans", sans-serif' textLength="126.7" lengthAdjust="spacingAndGlyphs">Observation Order</text>
</svg>
</body></html>
